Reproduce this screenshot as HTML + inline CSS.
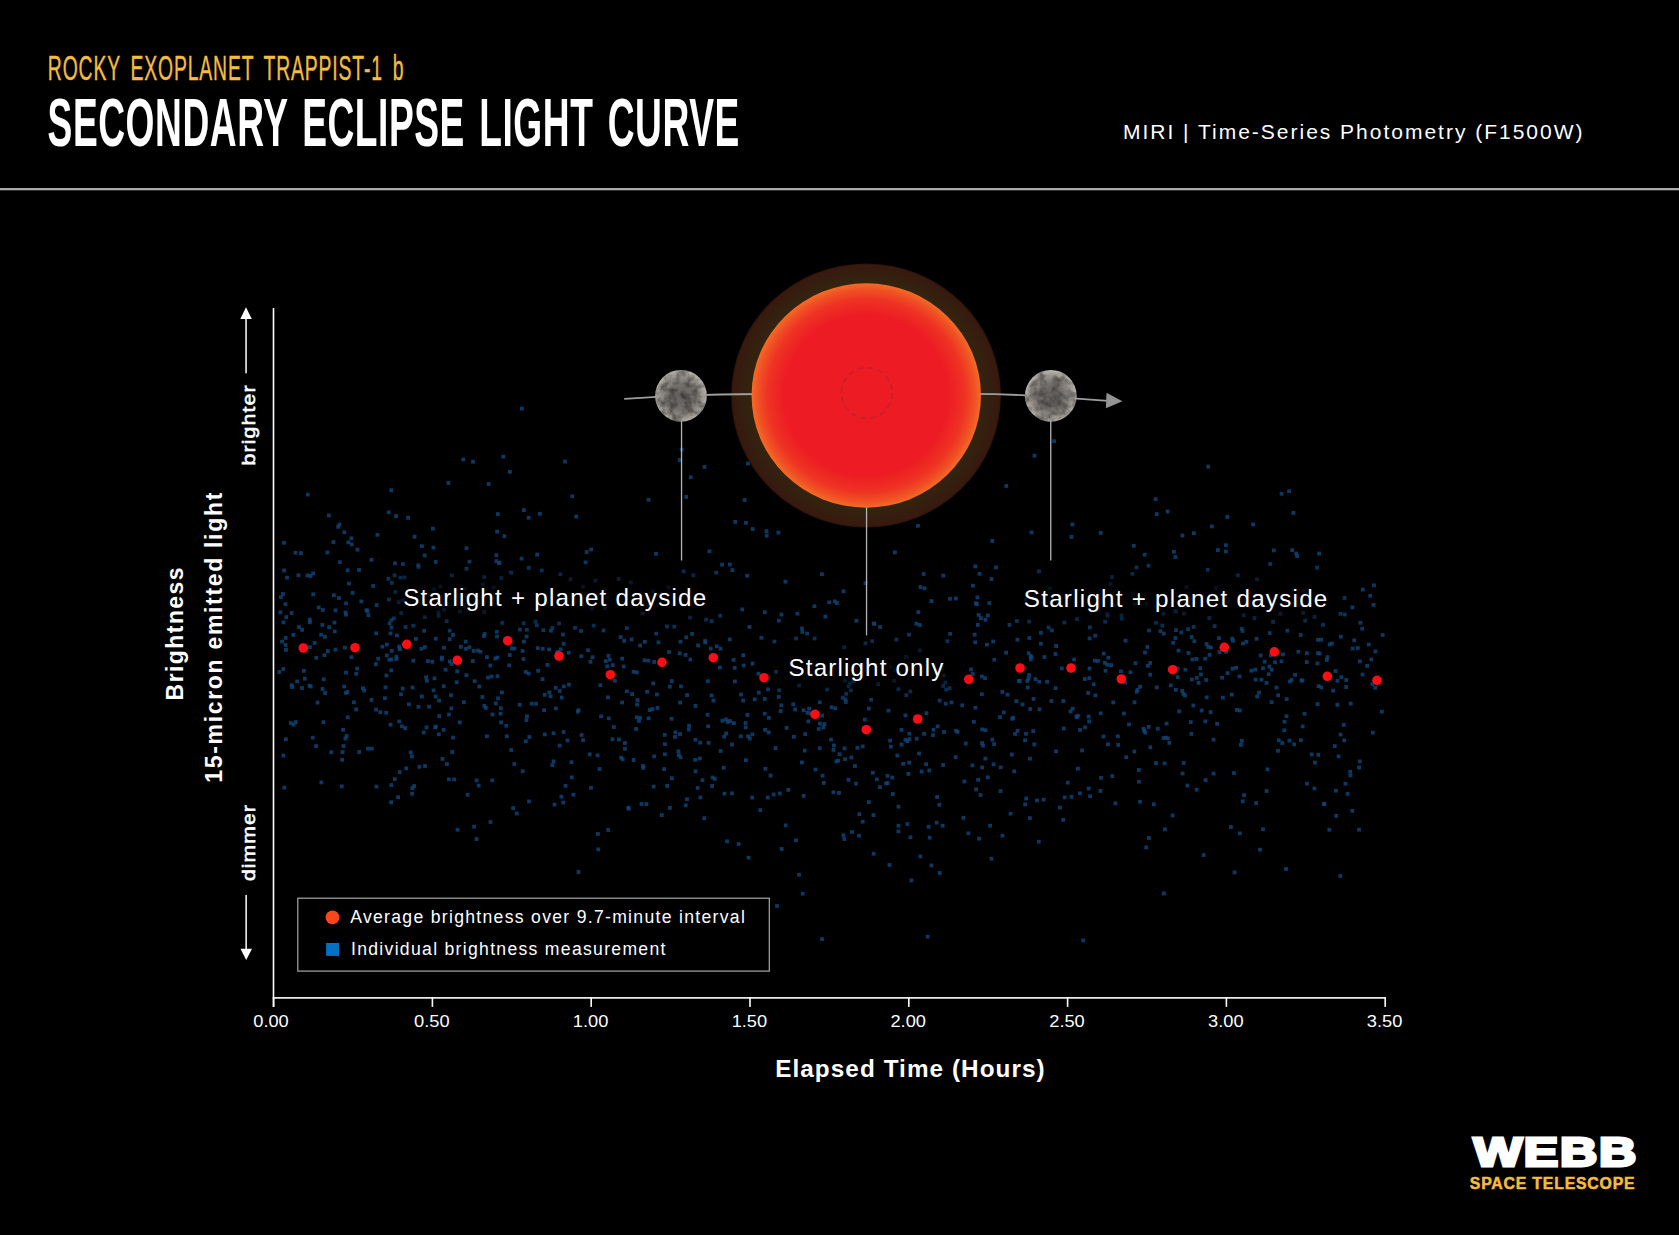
<!DOCTYPE html>
<html lang="en"><head><meta charset="utf-8"><title>Secondary Eclipse Light Curve</title>
<style>
html,body{margin:0;padding:0;background:#000;}
body{width:1679px;height:1235px;overflow:hidden;position:relative;font-family:"Liberation Sans",sans-serif;}
svg{position:absolute;left:0;top:0;display:block;}
text{font-family:"Liberation Sans",sans-serif;fill:#fff;}
</style></head><body>
<svg width="1679" height="1235" viewBox="0 0 1679 1235">
<defs>
<radialGradient id="starg" cx="50%" cy="50%" r="50%">
<stop offset="0" stop-color="#ed1c24"/><stop offset="0.72" stop-color="#ed1c24"/><stop offset="0.86" stop-color="#ee3323"/><stop offset="0.95" stop-color="#f05324"/><stop offset="1" stop-color="#f36c26"/>
</radialGradient>
<radialGradient id="halog" cx="50%" cy="50%" r="50%">
<stop offset="0" stop-color="#33240f"/><stop offset="0.86" stop-color="#33230f"/><stop offset="0.93" stop-color="#351e0f"/><stop offset="0.985" stop-color="#38190e"/><stop offset="1" stop-color="#2a120a"/>
</radialGradient>
<radialGradient id="plg" cx="50%" cy="52%" r="50%">
<stop offset="0" stop-color="#625e5a"/><stop offset="0.5" stop-color="#75706c"/><stop offset="0.82" stop-color="#9a958f"/><stop offset="1" stop-color="#b6b1ab"/>
</radialGradient>
<filter id="rough" x="-10%" y="-10%" width="120%" height="120%">
<feTurbulence type="fractalNoise" baseFrequency="0.13" numOctaves="3" seed="4" result="n"/>
<feColorMatrix in="n" type="matrix" values="0 0 0 0 0  0 0 0 0 0  0 0 0 0 0  1.0 0 0 0 -0.38" result="a"/>
<feComposite in="a" in2="SourceGraphic" operator="in"/>
</filter>
<filter id="dblur" x="0" y="0" width="100%" height="100%" filterUnits="userSpaceOnUse"><feGaussianBlur stdDeviation="0.6"/></filter>
<filter id="tglow" x="-20%" y="-120%" width="140%" height="340%">
<feGaussianBlur stdDeviation="10"/>
</filter>
</defs>
<rect width="1679" height="1235" fill="#000"/>
<g id="header">
<text id="sub" transform="translate(47.8,79.8) scale(0.562,1)" word-spacing="6.5" font-size="34.5" style="fill:#f6bc3e" stroke="#f6bc3e" stroke-width="0.4" letter-spacing="1.5">ROCKY EXOPLANET TRAPPIST-1 b</text>
<text id="title" transform="translate(47.6,145.5) scale(0.5363,1)" word-spacing="6.5" font-size="69.3" font-weight="bold" letter-spacing="1">SECONDARY ECLIPSE LIGHT CURVE</text>
<text id="miri" x="1123" y="138.7" font-size="21" textLength="459.5" lengthAdjust="spacing">MIRI | Time-Series Photometry (F1500W)</text>
<rect x="0" y="188" width="1679" height="2.3" fill="#a8a8a8"/>
</g>
<g id="dots" fill="#0c4476" fill-opacity="0.82" filter="url(#dblur)">
<rect x="634.9" y="670.5" width="3.8" height="3.8"/>
<rect x="869.2" y="697.8" width="3.8" height="3.8"/>
<rect x="341.2" y="727.9" width="3.8" height="3.8"/>
<rect x="354.3" y="671.9" width="3.8" height="3.8"/>
<rect x="746.2" y="734.4" width="3.8" height="3.8"/>
<rect x="970.4" y="763.5" width="3.8" height="3.8"/>
<rect x="914.8" y="736.8" width="3.8" height="3.8"/>
<rect x="1225.7" y="671.2" width="3.8" height="3.8"/>
<rect x="436.5" y="610.4" width="3.8" height="3.8"/>
<rect x="476.8" y="783.7" width="3.8" height="3.8"/>
<rect x="983.1" y="676.3" width="3.8" height="3.8"/>
<rect x="343.0" y="645.7" width="3.8" height="3.8"/>
<rect x="1028.9" y="657.5" width="3.8" height="3.8"/>
<rect x="777.9" y="791.5" width="3.8" height="3.8"/>
<rect x="1154.9" y="685.5" width="3.8" height="3.8"/>
<rect x="857.4" y="812.3" width="3.8" height="3.8"/>
<rect x="1083.1" y="725.4" width="3.8" height="3.8"/>
<rect x="739.1" y="692.7" width="3.8" height="3.8"/>
<rect x="445.0" y="762.2" width="3.8" height="3.8"/>
<rect x="1122.0" y="711.6" width="3.8" height="3.8"/>
<rect x="1244.5" y="639.9" width="3.8" height="3.8"/>
<rect x="917.9" y="623.1" width="3.8" height="3.8"/>
<rect x="344.1" y="670.7" width="3.8" height="3.8"/>
<rect x="992.2" y="742.2" width="3.8" height="3.8"/>
<rect x="703.4" y="640.6" width="3.8" height="3.8"/>
<rect x="302.0" y="669.0" width="3.8" height="3.8"/>
<rect x="342.2" y="684.6" width="3.8" height="3.8"/>
<rect x="420.0" y="544.3" width="3.8" height="3.8"/>
<rect x="366.1" y="746.8" width="3.8" height="3.8"/>
<rect x="884.2" y="781.5" width="3.8" height="3.8"/>
<rect x="584.8" y="550.1" width="3.8" height="3.8"/>
<rect x="673.5" y="730.4" width="3.8" height="3.8"/>
<rect x="471.8" y="649.0" width="3.8" height="3.8"/>
<rect x="534.9" y="623.4" width="3.8" height="3.8"/>
<rect x="281.6" y="620.5" width="3.8" height="3.8"/>
<rect x="685.1" y="797.3" width="3.8" height="3.8"/>
<rect x="846.7" y="684.3" width="3.8" height="3.8"/>
<rect x="1024.3" y="796.6" width="3.8" height="3.8"/>
<rect x="1243.4" y="598.7" width="3.8" height="3.8"/>
<rect x="710.7" y="775.6" width="3.8" height="3.8"/>
<rect x="345.9" y="715.4" width="3.8" height="3.8"/>
<rect x="507.8" y="653.1" width="3.8" height="3.8"/>
<rect x="277.4" y="670.1" width="3.8" height="3.8"/>
<rect x="389.2" y="800.4" width="3.8" height="3.8"/>
<rect x="955.6" y="730.0" width="3.8" height="3.8"/>
<rect x="555.8" y="650.8" width="3.8" height="3.8"/>
<rect x="1215.2" y="721.9" width="3.8" height="3.8"/>
<rect x="792.0" y="734.9" width="3.8" height="3.8"/>
<rect x="655.7" y="706.0" width="3.8" height="3.8"/>
<rect x="860.8" y="744.5" width="3.8" height="3.8"/>
<rect x="1231.1" y="638.9" width="3.8" height="3.8"/>
<rect x="565.6" y="738.5" width="3.8" height="3.8"/>
<rect x="641.4" y="766.0" width="3.8" height="3.8"/>
<rect x="1181.4" y="691.9" width="3.8" height="3.8"/>
<rect x="670.0" y="776.3" width="3.8" height="3.8"/>
<rect x="308.0" y="645.3" width="3.8" height="3.8"/>
<rect x="1334.0" y="788.8" width="3.8" height="3.8"/>
<rect x="1312.5" y="786.6" width="3.8" height="3.8"/>
<rect x="520.7" y="649.1" width="3.8" height="3.8"/>
<rect x="494.5" y="553.3" width="3.8" height="3.8"/>
<rect x="1205.8" y="567.9" width="3.8" height="3.8"/>
<rect x="998.6" y="789.2" width="3.8" height="3.8"/>
<rect x="1282.4" y="728.4" width="3.8" height="3.8"/>
<rect x="1106.0" y="742.4" width="3.8" height="3.8"/>
<rect x="644.5" y="802.2" width="3.8" height="3.8"/>
<rect x="1078.0" y="791.4" width="3.8" height="3.8"/>
<rect x="417.5" y="764.9" width="3.8" height="3.8"/>
<rect x="438.6" y="584.7" width="3.8" height="3.8"/>
<rect x="1360.3" y="626.8" width="3.8" height="3.8"/>
<rect x="421.8" y="730.6" width="3.8" height="3.8"/>
<rect x="756.5" y="671.8" width="3.8" height="3.8"/>
<rect x="1190.0" y="677.6" width="3.8" height="3.8"/>
<rect x="542.9" y="732.5" width="3.8" height="3.8"/>
<rect x="563.7" y="783.9" width="3.8" height="3.8"/>
<rect x="668.0" y="806.0" width="3.8" height="3.8"/>
<rect x="921.7" y="572.1" width="3.8" height="3.8"/>
<rect x="831.4" y="790.4" width="3.8" height="3.8"/>
<rect x="855.6" y="675.4" width="3.8" height="3.8"/>
<rect x="281.4" y="667.1" width="3.8" height="3.8"/>
<rect x="467.5" y="645.3" width="3.8" height="3.8"/>
<rect x="637.3" y="596.3" width="3.8" height="3.8"/>
<rect x="890.9" y="792.1" width="3.8" height="3.8"/>
<rect x="551.7" y="731.3" width="3.8" height="3.8"/>
<rect x="1130.4" y="572.0" width="3.8" height="3.8"/>
<rect x="1285.4" y="628.8" width="3.8" height="3.8"/>
<rect x="953.9" y="596.6" width="3.8" height="3.8"/>
<rect x="776.9" y="695.0" width="3.8" height="3.8"/>
<rect x="805.3" y="631.7" width="3.8" height="3.8"/>
<rect x="895.4" y="753.6" width="3.8" height="3.8"/>
<rect x="411.5" y="623.8" width="3.8" height="3.8"/>
<rect x="357.3" y="750.1" width="3.8" height="3.8"/>
<rect x="1143.3" y="730.8" width="3.8" height="3.8"/>
<rect x="447.8" y="637.2" width="3.8" height="3.8"/>
<rect x="1252.6" y="616.1" width="3.8" height="3.8"/>
<rect x="519.7" y="556.8" width="3.8" height="3.8"/>
<rect x="1370.9" y="730.8" width="3.8" height="3.8"/>
<rect x="455.5" y="593.8" width="3.8" height="3.8"/>
<rect x="493.4" y="656.6" width="3.8" height="3.8"/>
<rect x="1075.1" y="617.2" width="3.8" height="3.8"/>
<rect x="297.1" y="625.2" width="3.8" height="3.8"/>
<rect x="392.9" y="777.1" width="3.8" height="3.8"/>
<rect x="575.9" y="709.7" width="3.8" height="3.8"/>
<rect x="743.7" y="721.1" width="3.8" height="3.8"/>
<rect x="442.2" y="607.8" width="3.8" height="3.8"/>
<rect x="907.6" y="737.2" width="3.8" height="3.8"/>
<rect x="1037.6" y="707.4" width="3.8" height="3.8"/>
<rect x="357.1" y="568.1" width="3.8" height="3.8"/>
<rect x="369.6" y="557.9" width="3.8" height="3.8"/>
<rect x="350.7" y="591.0" width="3.8" height="3.8"/>
<rect x="888.2" y="738.8" width="3.8" height="3.8"/>
<rect x="573.1" y="625.9" width="3.8" height="3.8"/>
<rect x="398.0" y="647.2" width="3.8" height="3.8"/>
<rect x="332.8" y="629.5" width="3.8" height="3.8"/>
<rect x="1116.3" y="743.0" width="3.8" height="3.8"/>
<rect x="829.7" y="705.3" width="3.8" height="3.8"/>
<rect x="553.8" y="685.9" width="3.8" height="3.8"/>
<rect x="1087.2" y="719.5" width="3.8" height="3.8"/>
<rect x="1309.9" y="752.5" width="3.8" height="3.8"/>
<rect x="711.5" y="698.7" width="3.8" height="3.8"/>
<rect x="1037.1" y="569.5" width="3.8" height="3.8"/>
<rect x="1058.0" y="805.7" width="3.8" height="3.8"/>
<rect x="724.3" y="731.5" width="3.8" height="3.8"/>
<rect x="355.2" y="666.7" width="3.8" height="3.8"/>
<rect x="559.5" y="794.8" width="3.8" height="3.8"/>
<rect x="1239.0" y="743.0" width="3.8" height="3.8"/>
<rect x="588.6" y="659.9" width="3.8" height="3.8"/>
<rect x="451.2" y="735.7" width="3.8" height="3.8"/>
<rect x="547.2" y="647.5" width="3.8" height="3.8"/>
<rect x="619.2" y="755.8" width="3.8" height="3.8"/>
<rect x="801.6" y="708.4" width="3.8" height="3.8"/>
<rect x="499.2" y="720.5" width="3.8" height="3.8"/>
<rect x="376.3" y="656.8" width="3.8" height="3.8"/>
<rect x="323.1" y="634.9" width="3.8" height="3.8"/>
<rect x="924.2" y="762.3" width="3.8" height="3.8"/>
<rect x="1106.4" y="655.8" width="3.8" height="3.8"/>
<rect x="707.5" y="549.4" width="3.8" height="3.8"/>
<rect x="1365.2" y="664.0" width="3.8" height="3.8"/>
<rect x="325.5" y="550.5" width="3.8" height="3.8"/>
<rect x="1262.7" y="659.8" width="3.8" height="3.8"/>
<rect x="431.0" y="526.8" width="3.8" height="3.8"/>
<rect x="834.4" y="759.4" width="3.8" height="3.8"/>
<rect x="922.5" y="586.4" width="3.8" height="3.8"/>
<rect x="1031.7" y="697.0" width="3.8" height="3.8"/>
<rect x="424.2" y="675.4" width="3.8" height="3.8"/>
<rect x="393.0" y="561.4" width="3.8" height="3.8"/>
<rect x="969.1" y="667.5" width="3.8" height="3.8"/>
<rect x="817.8" y="746.3" width="3.8" height="3.8"/>
<rect x="832.9" y="599.5" width="3.8" height="3.8"/>
<rect x="1005.6" y="692.8" width="3.8" height="3.8"/>
<rect x="359.4" y="599.5" width="3.8" height="3.8"/>
<rect x="1083.0" y="677.1" width="3.8" height="3.8"/>
<rect x="806.4" y="719.5" width="3.8" height="3.8"/>
<rect x="987.4" y="601.1" width="3.8" height="3.8"/>
<rect x="440.0" y="655.6" width="3.8" height="3.8"/>
<rect x="904.5" y="655.5" width="3.8" height="3.8"/>
<rect x="344.1" y="601.4" width="3.8" height="3.8"/>
<rect x="1023.8" y="598.0" width="3.8" height="3.8"/>
<rect x="847.9" y="681.2" width="3.8" height="3.8"/>
<rect x="1264.6" y="680.9" width="3.8" height="3.8"/>
<rect x="1357.9" y="759.5" width="3.8" height="3.8"/>
<rect x="1183.1" y="693.6" width="3.8" height="3.8"/>
<rect x="773.7" y="746.2" width="3.8" height="3.8"/>
<rect x="433.7" y="694.6" width="3.8" height="3.8"/>
<rect x="1183.4" y="667.8" width="3.8" height="3.8"/>
<rect x="1257.1" y="690.7" width="3.8" height="3.8"/>
<rect x="281.1" y="592.1" width="3.8" height="3.8"/>
<rect x="432.6" y="676.4" width="3.8" height="3.8"/>
<rect x="626.4" y="805.9" width="3.8" height="3.8"/>
<rect x="1204.3" y="678.1" width="3.8" height="3.8"/>
<rect x="1300.8" y="724.5" width="3.8" height="3.8"/>
<rect x="688.4" y="657.6" width="3.8" height="3.8"/>
<rect x="1380.8" y="633.1" width="3.8" height="3.8"/>
<rect x="581.1" y="738.3" width="3.8" height="3.8"/>
<rect x="389.5" y="618.3" width="3.8" height="3.8"/>
<rect x="841.7" y="589.4" width="3.8" height="3.8"/>
<rect x="1254.2" y="801.2" width="3.8" height="3.8"/>
<rect x="974.2" y="787.5" width="3.8" height="3.8"/>
<rect x="1072.2" y="657.6" width="3.8" height="3.8"/>
<rect x="1086.3" y="691.0" width="3.8" height="3.8"/>
<rect x="593.4" y="578.7" width="3.8" height="3.8"/>
<rect x="1301.2" y="610.9" width="3.8" height="3.8"/>
<rect x="606.1" y="695.4" width="3.8" height="3.8"/>
<rect x="1355.9" y="646.1" width="3.8" height="3.8"/>
<rect x="892.9" y="668.5" width="3.8" height="3.8"/>
<rect x="462.0" y="700.3" width="3.8" height="3.8"/>
<rect x="1278.5" y="611.8" width="3.8" height="3.8"/>
<rect x="489.7" y="674.5" width="3.8" height="3.8"/>
<rect x="655.0" y="692.6" width="3.8" height="3.8"/>
<rect x="906.5" y="772.0" width="3.8" height="3.8"/>
<rect x="1105.5" y="612.1" width="3.8" height="3.8"/>
<rect x="693.5" y="737.8" width="3.8" height="3.8"/>
<rect x="345.7" y="690.1" width="3.8" height="3.8"/>
<rect x="833.4" y="706.3" width="3.8" height="3.8"/>
<rect x="1230.6" y="666.8" width="3.8" height="3.8"/>
<rect x="718.8" y="749.1" width="3.8" height="3.8"/>
<rect x="1331.2" y="688.8" width="3.8" height="3.8"/>
<rect x="312.7" y="641.0" width="3.8" height="3.8"/>
<rect x="1266.8" y="672.3" width="3.8" height="3.8"/>
<rect x="709.7" y="693.6" width="3.8" height="3.8"/>
<rect x="1189.4" y="732.0" width="3.8" height="3.8"/>
<rect x="397.6" y="646.7" width="3.8" height="3.8"/>
<rect x="992.4" y="657.8" width="3.8" height="3.8"/>
<rect x="534.1" y="701.8" width="3.8" height="3.8"/>
<rect x="990.4" y="737.7" width="3.8" height="3.8"/>
<rect x="980.2" y="741.2" width="3.8" height="3.8"/>
<rect x="401.0" y="562.2" width="3.8" height="3.8"/>
<rect x="705.9" y="679.3" width="3.8" height="3.8"/>
<rect x="941.3" y="684.0" width="3.8" height="3.8"/>
<rect x="1336.7" y="754.5" width="3.8" height="3.8"/>
<rect x="1253.7" y="677.7" width="3.8" height="3.8"/>
<rect x="1338.6" y="732.7" width="3.8" height="3.8"/>
<rect x="616.8" y="577.1" width="3.8" height="3.8"/>
<rect x="741.2" y="698.6" width="3.8" height="3.8"/>
<rect x="1014.5" y="699.2" width="3.8" height="3.8"/>
<rect x="650.6" y="707.1" width="3.8" height="3.8"/>
<rect x="1031.3" y="729.2" width="3.8" height="3.8"/>
<rect x="835.0" y="601.2" width="3.8" height="3.8"/>
<rect x="1348.8" y="701.7" width="3.8" height="3.8"/>
<rect x="521.8" y="621.3" width="3.8" height="3.8"/>
<rect x="603.0" y="606.3" width="3.8" height="3.8"/>
<rect x="523.9" y="670.1" width="3.8" height="3.8"/>
<rect x="1012.3" y="769.4" width="3.8" height="3.8"/>
<rect x="512.4" y="762.1" width="3.8" height="3.8"/>
<rect x="433.9" y="724.8" width="3.8" height="3.8"/>
<rect x="1269.6" y="700.2" width="3.8" height="3.8"/>
<rect x="1086.8" y="786.7" width="3.8" height="3.8"/>
<rect x="482.1" y="634.1" width="3.8" height="3.8"/>
<rect x="1101.8" y="651.7" width="3.8" height="3.8"/>
<rect x="690.2" y="632.0" width="3.8" height="3.8"/>
<rect x="464.1" y="646.9" width="3.8" height="3.8"/>
<rect x="1332.9" y="744.2" width="3.8" height="3.8"/>
<rect x="1342.6" y="596.0" width="3.8" height="3.8"/>
<rect x="1185.4" y="783.6" width="3.8" height="3.8"/>
<rect x="331.5" y="540.2" width="3.8" height="3.8"/>
<rect x="490.4" y="778.4" width="3.8" height="3.8"/>
<rect x="1268.3" y="562.1" width="3.8" height="3.8"/>
<rect x="1124.3" y="755.3" width="3.8" height="3.8"/>
<rect x="315.6" y="700.7" width="3.8" height="3.8"/>
<rect x="1102.9" y="660.9" width="3.8" height="3.8"/>
<rect x="651.8" y="784.7" width="3.8" height="3.8"/>
<rect x="566.8" y="650.9" width="3.8" height="3.8"/>
<rect x="626.8" y="806.8" width="3.8" height="3.8"/>
<rect x="1289.8" y="678.0" width="3.8" height="3.8"/>
<rect x="1319.4" y="685.6" width="3.8" height="3.8"/>
<rect x="1334.3" y="814.0" width="3.8" height="3.8"/>
<rect x="704.2" y="617.7" width="3.8" height="3.8"/>
<rect x="1302.6" y="711.9" width="3.8" height="3.8"/>
<rect x="1163.9" y="735.8" width="3.8" height="3.8"/>
<rect x="948.1" y="596.9" width="3.8" height="3.8"/>
<rect x="630.2" y="692.2" width="3.8" height="3.8"/>
<rect x="495.1" y="634.7" width="3.8" height="3.8"/>
<rect x="550.4" y="763.2" width="3.8" height="3.8"/>
<rect x="637.1" y="719.1" width="3.8" height="3.8"/>
<rect x="1253.3" y="667.8" width="3.8" height="3.8"/>
<rect x="383.6" y="685.4" width="3.8" height="3.8"/>
<rect x="1061.4" y="699.2" width="3.8" height="3.8"/>
<rect x="962.5" y="779.6" width="3.8" height="3.8"/>
<rect x="1103.6" y="668.8" width="3.8" height="3.8"/>
<rect x="1206.3" y="645.1" width="3.8" height="3.8"/>
<rect x="903.5" y="713.4" width="3.8" height="3.8"/>
<rect x="550.5" y="626.1" width="3.8" height="3.8"/>
<rect x="446.5" y="602.1" width="3.8" height="3.8"/>
<rect x="714.8" y="644.4" width="3.8" height="3.8"/>
<rect x="837.7" y="752.3" width="3.8" height="3.8"/>
<rect x="1372.1" y="583.4" width="3.8" height="3.8"/>
<rect x="801.7" y="794.0" width="3.8" height="3.8"/>
<rect x="408.8" y="750.5" width="3.8" height="3.8"/>
<rect x="1304.9" y="660.2" width="3.8" height="3.8"/>
<rect x="1234.2" y="665.8" width="3.8" height="3.8"/>
<rect x="1322.1" y="802.2" width="3.8" height="3.8"/>
<rect x="935.8" y="724.5" width="3.8" height="3.8"/>
<rect x="433.3" y="725.5" width="3.8" height="3.8"/>
<rect x="558.8" y="647.4" width="3.8" height="3.8"/>
<rect x="289.7" y="611.1" width="3.8" height="3.8"/>
<rect x="1026.6" y="676.7" width="3.8" height="3.8"/>
<rect x="1155.9" y="726.8" width="3.8" height="3.8"/>
<rect x="347.0" y="581.6" width="3.8" height="3.8"/>
<rect x="983.4" y="756.7" width="3.8" height="3.8"/>
<rect x="458.0" y="609.5" width="3.8" height="3.8"/>
<rect x="617.0" y="737.6" width="3.8" height="3.8"/>
<rect x="622.3" y="638.9" width="3.8" height="3.8"/>
<rect x="1232.1" y="771.2" width="3.8" height="3.8"/>
<rect x="679.1" y="684.5" width="3.8" height="3.8"/>
<rect x="283.6" y="602.3" width="3.8" height="3.8"/>
<rect x="745.3" y="573.9" width="3.8" height="3.8"/>
<rect x="786.4" y="788.0" width="3.8" height="3.8"/>
<rect x="293.5" y="550.8" width="3.8" height="3.8"/>
<rect x="375.5" y="532.9" width="3.8" height="3.8"/>
<rect x="686.9" y="727.7" width="3.8" height="3.8"/>
<rect x="853.0" y="764.1" width="3.8" height="3.8"/>
<rect x="397.3" y="719.5" width="3.8" height="3.8"/>
<rect x="1319.2" y="637.8" width="3.8" height="3.8"/>
<rect x="1300.5" y="678.5" width="3.8" height="3.8"/>
<rect x="1276.3" y="693.4" width="3.8" height="3.8"/>
<rect x="1145.4" y="645.1" width="3.8" height="3.8"/>
<rect x="724.1" y="717.5" width="3.8" height="3.8"/>
<rect x="518.1" y="627.6" width="3.8" height="3.8"/>
<rect x="849.4" y="755.6" width="3.8" height="3.8"/>
<rect x="1078.1" y="728.0" width="3.8" height="3.8"/>
<rect x="322.5" y="653.3" width="3.8" height="3.8"/>
<rect x="1203.3" y="656.8" width="3.8" height="3.8"/>
<rect x="939.6" y="666.8" width="3.8" height="3.8"/>
<rect x="741.3" y="653.3" width="3.8" height="3.8"/>
<rect x="747.5" y="625.0" width="3.8" height="3.8"/>
<rect x="302.9" y="676.8" width="3.8" height="3.8"/>
<rect x="818.0" y="721.7" width="3.8" height="3.8"/>
<rect x="783.5" y="579.8" width="3.8" height="3.8"/>
<rect x="800.0" y="760.5" width="3.8" height="3.8"/>
<rect x="378.4" y="710.3" width="3.8" height="3.8"/>
<rect x="840.8" y="695.7" width="3.8" height="3.8"/>
<rect x="1087.6" y="666.6" width="3.8" height="3.8"/>
<rect x="842.3" y="645.4" width="3.8" height="3.8"/>
<rect x="1327.8" y="676.2" width="3.8" height="3.8"/>
<rect x="1224.2" y="649.9" width="3.8" height="3.8"/>
<rect x="820.6" y="773.8" width="3.8" height="3.8"/>
<rect x="1148.3" y="661.0" width="3.8" height="3.8"/>
<rect x="349.5" y="655.3" width="3.8" height="3.8"/>
<rect x="1267.8" y="631.2" width="3.8" height="3.8"/>
<rect x="507.3" y="663.4" width="3.8" height="3.8"/>
<rect x="836.2" y="758.8" width="3.8" height="3.8"/>
<rect x="455.3" y="669.4" width="3.8" height="3.8"/>
<rect x="1028.1" y="756.8" width="3.8" height="3.8"/>
<rect x="404.3" y="766.5" width="3.8" height="3.8"/>
<rect x="980.2" y="765.6" width="3.8" height="3.8"/>
<rect x="918.0" y="648.5" width="3.8" height="3.8"/>
<rect x="392.7" y="573.5" width="3.8" height="3.8"/>
<rect x="1158.5" y="629.2" width="3.8" height="3.8"/>
<rect x="1371.6" y="603.0" width="3.8" height="3.8"/>
<rect x="765.8" y="795.6" width="3.8" height="3.8"/>
<rect x="1098.8" y="711.4" width="3.8" height="3.8"/>
<rect x="983.5" y="617.9" width="3.8" height="3.8"/>
<rect x="924.5" y="711.2" width="3.8" height="3.8"/>
<rect x="314.4" y="655.9" width="3.8" height="3.8"/>
<rect x="423.0" y="645.2" width="3.8" height="3.8"/>
<rect x="998.8" y="765.4" width="3.8" height="3.8"/>
<rect x="394.6" y="657.1" width="3.8" height="3.8"/>
<rect x="524.9" y="627.8" width="3.8" height="3.8"/>
<rect x="966.5" y="678.6" width="3.8" height="3.8"/>
<rect x="426.0" y="659.2" width="3.8" height="3.8"/>
<rect x="383.0" y="696.3" width="3.8" height="3.8"/>
<rect x="1239.9" y="626.9" width="3.8" height="3.8"/>
<rect x="289.8" y="683.3" width="3.8" height="3.8"/>
<rect x="898.5" y="670.5" width="3.8" height="3.8"/>
<rect x="1312.7" y="615.0" width="3.8" height="3.8"/>
<rect x="551.7" y="759.5" width="3.8" height="3.8"/>
<rect x="725.7" y="720.1" width="3.8" height="3.8"/>
<rect x="341.6" y="744.1" width="3.8" height="3.8"/>
<rect x="1316.8" y="684.2" width="3.8" height="3.8"/>
<rect x="497.6" y="560.8" width="3.8" height="3.8"/>
<rect x="1175.9" y="675.3" width="3.8" height="3.8"/>
<rect x="1142.3" y="728.7" width="3.8" height="3.8"/>
<rect x="284.1" y="648.0" width="3.8" height="3.8"/>
<rect x="1096.7" y="607.7" width="3.8" height="3.8"/>
<rect x="526.8" y="671.7" width="3.8" height="3.8"/>
<rect x="647.8" y="708.2" width="3.8" height="3.8"/>
<rect x="1045.2" y="679.9" width="3.8" height="3.8"/>
<rect x="889.0" y="664.9" width="3.8" height="3.8"/>
<rect x="1148.3" y="672.8" width="3.8" height="3.8"/>
<rect x="1343.6" y="781.8" width="3.8" height="3.8"/>
<rect x="1249.5" y="668.8" width="3.8" height="3.8"/>
<rect x="1099.1" y="775.9" width="3.8" height="3.8"/>
<rect x="1101.6" y="734.6" width="3.8" height="3.8"/>
<rect x="541.4" y="628.3" width="3.8" height="3.8"/>
<rect x="974.0" y="601.3" width="3.8" height="3.8"/>
<rect x="1048.0" y="586.4" width="3.8" height="3.8"/>
<rect x="907.3" y="760.7" width="3.8" height="3.8"/>
<rect x="511.3" y="806.2" width="3.8" height="3.8"/>
<rect x="436.9" y="732.4" width="3.8" height="3.8"/>
<rect x="395.0" y="633.6" width="3.8" height="3.8"/>
<rect x="308.8" y="684.6" width="3.8" height="3.8"/>
<rect x="1042.5" y="655.2" width="3.8" height="3.8"/>
<rect x="349.8" y="542.5" width="3.8" height="3.8"/>
<rect x="678.7" y="755.4" width="3.8" height="3.8"/>
<rect x="1287.5" y="738.7" width="3.8" height="3.8"/>
<rect x="400.8" y="686.7" width="3.8" height="3.8"/>
<rect x="1213.8" y="586.3" width="3.8" height="3.8"/>
<rect x="974.9" y="602.3" width="3.8" height="3.8"/>
<rect x="387.5" y="657.8" width="3.8" height="3.8"/>
<rect x="629.7" y="637.5" width="3.8" height="3.8"/>
<rect x="300.2" y="628.0" width="3.8" height="3.8"/>
<rect x="683.8" y="803.5" width="3.8" height="3.8"/>
<rect x="1342.3" y="738.5" width="3.8" height="3.8"/>
<rect x="311.3" y="571.5" width="3.8" height="3.8"/>
<rect x="759.4" y="635.9" width="3.8" height="3.8"/>
<rect x="871.5" y="813.2" width="3.8" height="3.8"/>
<rect x="1229.9" y="692.7" width="3.8" height="3.8"/>
<rect x="278.5" y="610.3" width="3.8" height="3.8"/>
<rect x="820.2" y="713.7" width="3.8" height="3.8"/>
<rect x="481.0" y="582.7" width="3.8" height="3.8"/>
<rect x="590.6" y="655.3" width="3.8" height="3.8"/>
<rect x="398.6" y="575.8" width="3.8" height="3.8"/>
<rect x="366.5" y="613.3" width="3.8" height="3.8"/>
<rect x="971.0" y="583.8" width="3.8" height="3.8"/>
<rect x="720.5" y="718.9" width="3.8" height="3.8"/>
<rect x="1258.8" y="653.5" width="3.8" height="3.8"/>
<rect x="504.9" y="734.3" width="3.8" height="3.8"/>
<rect x="696.2" y="643.5" width="3.8" height="3.8"/>
<rect x="535.2" y="552.7" width="3.8" height="3.8"/>
<rect x="1109.2" y="663.2" width="3.8" height="3.8"/>
<rect x="662.2" y="767.2" width="3.8" height="3.8"/>
<rect x="1008.7" y="811.8" width="3.8" height="3.8"/>
<rect x="464.5" y="673.3" width="3.8" height="3.8"/>
<rect x="416.4" y="563.3" width="3.8" height="3.8"/>
<rect x="1255.2" y="694.5" width="3.8" height="3.8"/>
<rect x="1054.1" y="749.4" width="3.8" height="3.8"/>
<rect x="447.9" y="659.6" width="3.8" height="3.8"/>
<rect x="854.1" y="781.7" width="3.8" height="3.8"/>
<rect x="639.6" y="802.1" width="3.8" height="3.8"/>
<rect x="389.6" y="625.6" width="3.8" height="3.8"/>
<rect x="389.4" y="783.2" width="3.8" height="3.8"/>
<rect x="1087.4" y="676.2" width="3.8" height="3.8"/>
<rect x="493.9" y="701.5" width="3.8" height="3.8"/>
<rect x="706.2" y="724.4" width="3.8" height="3.8"/>
<rect x="718.0" y="665.6" width="3.8" height="3.8"/>
<rect x="975.9" y="623.0" width="3.8" height="3.8"/>
<rect x="433.8" y="560.1" width="3.8" height="3.8"/>
<rect x="1280.4" y="741.2" width="3.8" height="3.8"/>
<rect x="911.3" y="669.8" width="3.8" height="3.8"/>
<rect x="1075.2" y="715.1" width="3.8" height="3.8"/>
<rect x="1132.4" y="749.6" width="3.8" height="3.8"/>
<rect x="986.0" y="613.6" width="3.8" height="3.8"/>
<rect x="623.0" y="746.9" width="3.8" height="3.8"/>
<rect x="1141.6" y="726.8" width="3.8" height="3.8"/>
<rect x="972.8" y="632.8" width="3.8" height="3.8"/>
<rect x="963.9" y="741.6" width="3.8" height="3.8"/>
<rect x="1023.2" y="738.4" width="3.8" height="3.8"/>
<rect x="1137.0" y="779.8" width="3.8" height="3.8"/>
<rect x="454.8" y="680.3" width="3.8" height="3.8"/>
<rect x="1316.4" y="752.9" width="3.8" height="3.8"/>
<rect x="874.9" y="777.4" width="3.8" height="3.8"/>
<rect x="843.1" y="757.3" width="3.8" height="3.8"/>
<rect x="730.5" y="568.2" width="3.8" height="3.8"/>
<rect x="509.2" y="570.8" width="3.8" height="3.8"/>
<rect x="412.3" y="784.1" width="3.8" height="3.8"/>
<rect x="669.9" y="679.2" width="3.8" height="3.8"/>
<rect x="291.8" y="722.7" width="3.8" height="3.8"/>
<rect x="741.8" y="663.6" width="3.8" height="3.8"/>
<rect x="525.1" y="714.4" width="3.8" height="3.8"/>
<rect x="1315.7" y="702.2" width="3.8" height="3.8"/>
<rect x="420.0" y="694.5" width="3.8" height="3.8"/>
<rect x="795.5" y="611.8" width="3.8" height="3.8"/>
<rect x="526.8" y="566.1" width="3.8" height="3.8"/>
<rect x="1181.8" y="761.1" width="3.8" height="3.8"/>
<rect x="794.4" y="671.1" width="3.8" height="3.8"/>
<rect x="1198.4" y="666.3" width="3.8" height="3.8"/>
<rect x="1217.1" y="636.2" width="3.8" height="3.8"/>
<rect x="747.9" y="736.7" width="3.8" height="3.8"/>
<rect x="280.1" y="639.7" width="3.8" height="3.8"/>
<rect x="610.6" y="737.3" width="3.8" height="3.8"/>
<rect x="750.6" y="661.7" width="3.8" height="3.8"/>
<rect x="1303.3" y="618.7" width="3.8" height="3.8"/>
<rect x="340.2" y="757.9" width="3.8" height="3.8"/>
<rect x="432.2" y="587.5" width="3.8" height="3.8"/>
<rect x="1001.9" y="710.5" width="3.8" height="3.8"/>
<rect x="389.3" y="668.5" width="3.8" height="3.8"/>
<rect x="659.9" y="813.2" width="3.8" height="3.8"/>
<rect x="1276.1" y="748.9" width="3.8" height="3.8"/>
<rect x="1015.7" y="728.9" width="3.8" height="3.8"/>
<rect x="495.2" y="529.7" width="3.8" height="3.8"/>
<rect x="863.6" y="581.3" width="3.8" height="3.8"/>
<rect x="890.4" y="775.7" width="3.8" height="3.8"/>
<rect x="535.9" y="646.2" width="3.8" height="3.8"/>
<rect x="793.2" y="707.5" width="3.8" height="3.8"/>
<rect x="820.1" y="572.3" width="3.8" height="3.8"/>
<rect x="284.4" y="615.2" width="3.8" height="3.8"/>
<rect x="794.2" y="636.6" width="3.8" height="3.8"/>
<rect x="691.4" y="573.5" width="3.8" height="3.8"/>
<rect x="1338.6" y="612.0" width="3.8" height="3.8"/>
<rect x="308.6" y="574.0" width="3.8" height="3.8"/>
<rect x="1031.4" y="596.1" width="3.8" height="3.8"/>
<rect x="1268.9" y="653.6" width="3.8" height="3.8"/>
<rect x="651.3" y="589.5" width="3.8" height="3.8"/>
<rect x="681.7" y="569.5" width="3.8" height="3.8"/>
<rect x="510.0" y="646.5" width="3.8" height="3.8"/>
<rect x="743.8" y="725.5" width="3.8" height="3.8"/>
<rect x="1191.7" y="625.0" width="3.8" height="3.8"/>
<rect x="1000.4" y="690.0" width="3.8" height="3.8"/>
<rect x="642.7" y="658.4" width="3.8" height="3.8"/>
<rect x="978.6" y="793.1" width="3.8" height="3.8"/>
<rect x="321.4" y="720.3" width="3.8" height="3.8"/>
<rect x="332.0" y="593.3" width="3.8" height="3.8"/>
<rect x="284.0" y="737.3" width="3.8" height="3.8"/>
<rect x="1004.2" y="650.8" width="3.8" height="3.8"/>
<rect x="1282.5" y="599.5" width="3.8" height="3.8"/>
<rect x="1046.6" y="625.6" width="3.8" height="3.8"/>
<rect x="1029.6" y="655.3" width="3.8" height="3.8"/>
<rect x="1119.9" y="616.7" width="3.8" height="3.8"/>
<rect x="477.4" y="684.6" width="3.8" height="3.8"/>
<rect x="1186.1" y="627.3" width="3.8" height="3.8"/>
<rect x="610.9" y="663.2" width="3.8" height="3.8"/>
<rect x="629.0" y="580.7" width="3.8" height="3.8"/>
<rect x="337.5" y="522.6" width="3.8" height="3.8"/>
<rect x="320.6" y="687.1" width="3.8" height="3.8"/>
<rect x="1292.2" y="587.8" width="3.8" height="3.8"/>
<rect x="1360.9" y="587.7" width="3.8" height="3.8"/>
<rect x="732.8" y="666.0" width="3.8" height="3.8"/>
<rect x="444.8" y="619.2" width="3.8" height="3.8"/>
<rect x="282.4" y="785.7" width="3.8" height="3.8"/>
<rect x="374.5" y="784.7" width="3.8" height="3.8"/>
<rect x="419.6" y="646.9" width="3.8" height="3.8"/>
<rect x="1087.7" y="636.5" width="3.8" height="3.8"/>
<rect x="332.5" y="620.7" width="3.8" height="3.8"/>
<rect x="557.8" y="743.7" width="3.8" height="3.8"/>
<rect x="1069.6" y="794.9" width="3.8" height="3.8"/>
<rect x="1180.3" y="689.0" width="3.8" height="3.8"/>
<rect x="620.8" y="757.4" width="3.8" height="3.8"/>
<rect x="683.3" y="591.3" width="3.8" height="3.8"/>
<rect x="437.2" y="698.7" width="3.8" height="3.8"/>
<rect x="678.5" y="639.8" width="3.8" height="3.8"/>
<rect x="703.3" y="639.1" width="3.8" height="3.8"/>
<rect x="1321.2" y="622.8" width="3.8" height="3.8"/>
<rect x="344.1" y="612.8" width="3.8" height="3.8"/>
<rect x="1054.2" y="644.1" width="3.8" height="3.8"/>
<rect x="1357.2" y="765.6" width="3.8" height="3.8"/>
<rect x="941.4" y="573.7" width="3.8" height="3.8"/>
<rect x="693.3" y="758.0" width="3.8" height="3.8"/>
<rect x="942.1" y="730.1" width="3.8" height="3.8"/>
<rect x="279.0" y="595.2" width="3.8" height="3.8"/>
<rect x="744.0" y="758.3" width="3.8" height="3.8"/>
<rect x="1174.1" y="628.2" width="3.8" height="3.8"/>
<rect x="1217.7" y="650.2" width="3.8" height="3.8"/>
<rect x="1033.6" y="677.2" width="3.8" height="3.8"/>
<rect x="888.9" y="744.8" width="3.8" height="3.8"/>
<rect x="498.6" y="711.8" width="3.8" height="3.8"/>
<rect x="947.7" y="686.3" width="3.8" height="3.8"/>
<rect x="791.3" y="702.5" width="3.8" height="3.8"/>
<rect x="1151.9" y="802.4" width="3.8" height="3.8"/>
<rect x="374.0" y="662.2" width="3.8" height="3.8"/>
<rect x="917.5" y="662.3" width="3.8" height="3.8"/>
<rect x="1255.1" y="577.6" width="3.8" height="3.8"/>
<rect x="486.1" y="675.7" width="3.8" height="3.8"/>
<rect x="476.8" y="599.6" width="3.8" height="3.8"/>
<rect x="721.9" y="765.9" width="3.8" height="3.8"/>
<rect x="441.8" y="728.0" width="3.8" height="3.8"/>
<rect x="394.4" y="654.7" width="3.8" height="3.8"/>
<rect x="1147.1" y="628.6" width="3.8" height="3.8"/>
<rect x="851.1" y="679.1" width="3.8" height="3.8"/>
<rect x="314.2" y="744.2" width="3.8" height="3.8"/>
<rect x="903.8" y="655.0" width="3.8" height="3.8"/>
<rect x="1138.1" y="799.9" width="3.8" height="3.8"/>
<rect x="1181.9" y="611.6" width="3.8" height="3.8"/>
<rect x="557.8" y="689.1" width="3.8" height="3.8"/>
<rect x="369.5" y="698.0" width="3.8" height="3.8"/>
<rect x="893.0" y="550.5" width="3.8" height="3.8"/>
<rect x="1282.6" y="719.9" width="3.8" height="3.8"/>
<rect x="561.3" y="800.7" width="3.8" height="3.8"/>
<rect x="985.0" y="642.8" width="3.8" height="3.8"/>
<rect x="772.5" y="639.6" width="3.8" height="3.8"/>
<rect x="1344.3" y="685.1" width="3.8" height="3.8"/>
<rect x="559.8" y="695.7" width="3.8" height="3.8"/>
<rect x="1274.6" y="685.7" width="3.8" height="3.8"/>
<rect x="1146.0" y="663.9" width="3.8" height="3.8"/>
<rect x="991.7" y="762.4" width="3.8" height="3.8"/>
<rect x="1111.3" y="700.5" width="3.8" height="3.8"/>
<rect x="1025.1" y="593.6" width="3.8" height="3.8"/>
<rect x="393.6" y="590.0" width="3.8" height="3.8"/>
<rect x="561.1" y="632.6" width="3.8" height="3.8"/>
<rect x="540.6" y="677.2" width="3.8" height="3.8"/>
<rect x="1025.9" y="685.6" width="3.8" height="3.8"/>
<rect x="316.9" y="605.6" width="3.8" height="3.8"/>
<rect x="520.8" y="769.3" width="3.8" height="3.8"/>
<rect x="431.5" y="545.7" width="3.8" height="3.8"/>
<rect x="384.3" y="710.9" width="3.8" height="3.8"/>
<rect x="776.9" y="618.7" width="3.8" height="3.8"/>
<rect x="1186.6" y="651.0" width="3.8" height="3.8"/>
<rect x="522.0" y="639.7" width="3.8" height="3.8"/>
<rect x="1065.8" y="780.8" width="3.8" height="3.8"/>
<rect x="571.5" y="792.9" width="3.8" height="3.8"/>
<rect x="449.1" y="693.3" width="3.8" height="3.8"/>
<rect x="462.5" y="604.4" width="3.8" height="3.8"/>
<rect x="339.9" y="784.5" width="3.8" height="3.8"/>
<rect x="1015.5" y="637.8" width="3.8" height="3.8"/>
<rect x="562.0" y="684.5" width="3.8" height="3.8"/>
<rect x="384.9" y="653.5" width="3.8" height="3.8"/>
<rect x="1267.4" y="664.7" width="3.8" height="3.8"/>
<rect x="1358.5" y="620.9" width="3.8" height="3.8"/>
<rect x="1168.9" y="683.4" width="3.8" height="3.8"/>
<rect x="1196.7" y="681.0" width="3.8" height="3.8"/>
<rect x="482.4" y="703.9" width="3.8" height="3.8"/>
<rect x="908.4" y="689.5" width="3.8" height="3.8"/>
<rect x="476.1" y="648.6" width="3.8" height="3.8"/>
<rect x="364.7" y="608.2" width="3.8" height="3.8"/>
<rect x="949.6" y="700.5" width="3.8" height="3.8"/>
<rect x="953.8" y="755.3" width="3.8" height="3.8"/>
<rect x="1173.9" y="687.9" width="3.8" height="3.8"/>
<rect x="1086.8" y="714.6" width="3.8" height="3.8"/>
<rect x="1074.5" y="714.7" width="3.8" height="3.8"/>
<rect x="1207.4" y="616.0" width="3.8" height="3.8"/>
<rect x="821.9" y="781.0" width="3.8" height="3.8"/>
<rect x="1240.7" y="629.1" width="3.8" height="3.8"/>
<rect x="482.7" y="632.1" width="3.8" height="3.8"/>
<rect x="687.2" y="723.9" width="3.8" height="3.8"/>
<rect x="282.2" y="568.6" width="3.8" height="3.8"/>
<rect x="410.6" y="685.7" width="3.8" height="3.8"/>
<rect x="1179.4" y="630.5" width="3.8" height="3.8"/>
<rect x="698.5" y="795.5" width="3.8" height="3.8"/>
<rect x="344.7" y="734.1" width="3.8" height="3.8"/>
<rect x="844.3" y="691.9" width="3.8" height="3.8"/>
<rect x="870.9" y="770.9" width="3.8" height="3.8"/>
<rect x="478.6" y="649.8" width="3.8" height="3.8"/>
<rect x="553.9" y="706.5" width="3.8" height="3.8"/>
<rect x="1049.5" y="699.1" width="3.8" height="3.8"/>
<rect x="296.6" y="573.4" width="3.8" height="3.8"/>
<rect x="1053.5" y="652.1" width="3.8" height="3.8"/>
<rect x="1237.9" y="708.6" width="3.8" height="3.8"/>
<rect x="822.5" y="722.2" width="3.8" height="3.8"/>
<rect x="586.1" y="648.4" width="3.8" height="3.8"/>
<rect x="931.1" y="733.3" width="3.8" height="3.8"/>
<rect x="439.8" y="657.3" width="3.8" height="3.8"/>
<rect x="1189.8" y="635.2" width="3.8" height="3.8"/>
<rect x="706.7" y="740.9" width="3.8" height="3.8"/>
<rect x="714.3" y="570.8" width="3.8" height="3.8"/>
<rect x="1135.6" y="688.0" width="3.8" height="3.8"/>
<rect x="758.4" y="808.2" width="3.8" height="3.8"/>
<rect x="1165.9" y="736.4" width="3.8" height="3.8"/>
<rect x="336.3" y="524.9" width="3.8" height="3.8"/>
<rect x="1335.5" y="678.9" width="3.8" height="3.8"/>
<rect x="976.2" y="777.9" width="3.8" height="3.8"/>
<rect x="863.6" y="641.5" width="3.8" height="3.8"/>
<rect x="300.1" y="686.1" width="3.8" height="3.8"/>
<rect x="1348.6" y="773.6" width="3.8" height="3.8"/>
<rect x="1171.3" y="640.9" width="3.8" height="3.8"/>
<rect x="1254.6" y="636.9" width="3.8" height="3.8"/>
<rect x="1026.8" y="651.3" width="3.8" height="3.8"/>
<rect x="876.3" y="682.2" width="3.8" height="3.8"/>
<rect x="852.0" y="679.5" width="3.8" height="3.8"/>
<rect x="1327.8" y="642.5" width="3.8" height="3.8"/>
<rect x="410.1" y="754.5" width="3.8" height="3.8"/>
<rect x="1333.6" y="669.1" width="3.8" height="3.8"/>
<rect x="867.0" y="800.2" width="3.8" height="3.8"/>
<rect x="414.0" y="637.0" width="3.8" height="3.8"/>
<rect x="595.7" y="753.4" width="3.8" height="3.8"/>
<rect x="374.2" y="707.7" width="3.8" height="3.8"/>
<rect x="907.1" y="632.8" width="3.8" height="3.8"/>
<rect x="499.4" y="576.2" width="3.8" height="3.8"/>
<rect x="954.2" y="728.9" width="3.8" height="3.8"/>
<rect x="620.2" y="700.6" width="3.8" height="3.8"/>
<rect x="700.5" y="778.3" width="3.8" height="3.8"/>
<rect x="290.2" y="685.1" width="3.8" height="3.8"/>
<rect x="892.2" y="678.7" width="3.8" height="3.8"/>
<rect x="591.8" y="623.7" width="3.8" height="3.8"/>
<rect x="452.3" y="777.6" width="3.8" height="3.8"/>
<rect x="1239.9" y="739.0" width="3.8" height="3.8"/>
<rect x="763.2" y="728.0" width="3.8" height="3.8"/>
<rect x="397.8" y="770.2" width="3.8" height="3.8"/>
<rect x="447.8" y="628.8" width="3.8" height="3.8"/>
<rect x="666.6" y="585.5" width="3.8" height="3.8"/>
<rect x="1184.5" y="585.3" width="3.8" height="3.8"/>
<rect x="1093.4" y="693.5" width="3.8" height="3.8"/>
<rect x="1144.5" y="601.5" width="3.8" height="3.8"/>
<rect x="1287.8" y="679.6" width="3.8" height="3.8"/>
<rect x="1123.2" y="680.6" width="3.8" height="3.8"/>
<rect x="827.3" y="600.4" width="3.8" height="3.8"/>
<rect x="1143.1" y="650.6" width="3.8" height="3.8"/>
<rect x="948.2" y="632.0" width="3.8" height="3.8"/>
<rect x="1076.1" y="713.8" width="3.8" height="3.8"/>
<rect x="708.8" y="646.7" width="3.8" height="3.8"/>
<rect x="1146.8" y="725.0" width="3.8" height="3.8"/>
<rect x="829.1" y="737.7" width="3.8" height="3.8"/>
<rect x="437.3" y="714.2" width="3.8" height="3.8"/>
<rect x="919.7" y="769.6" width="3.8" height="3.8"/>
<rect x="1209.0" y="645.6" width="3.8" height="3.8"/>
<rect x="288.9" y="721.2" width="3.8" height="3.8"/>
<rect x="872.1" y="621.7" width="3.8" height="3.8"/>
<rect x="848.9" y="688.4" width="3.8" height="3.8"/>
<rect x="672.4" y="624.8" width="3.8" height="3.8"/>
<rect x="665.1" y="624.5" width="3.8" height="3.8"/>
<rect x="386.5" y="576.9" width="3.8" height="3.8"/>
<rect x="720.1" y="562.8" width="3.8" height="3.8"/>
<rect x="1342.8" y="612.6" width="3.8" height="3.8"/>
<rect x="763.5" y="766.9" width="3.8" height="3.8"/>
<rect x="862.9" y="717.7" width="3.8" height="3.8"/>
<rect x="465.7" y="792.9" width="3.8" height="3.8"/>
<rect x="843.5" y="697.5" width="3.8" height="3.8"/>
<rect x="1265.5" y="767.4" width="3.8" height="3.8"/>
<rect x="449.9" y="573.6" width="3.8" height="3.8"/>
<rect x="485.0" y="655.2" width="3.8" height="3.8"/>
<rect x="973.4" y="564.5" width="3.8" height="3.8"/>
<rect x="731.7" y="658.0" width="3.8" height="3.8"/>
<rect x="281.4" y="753.7" width="3.8" height="3.8"/>
<rect x="1207.7" y="653.0" width="3.8" height="3.8"/>
<rect x="827.2" y="671.2" width="3.8" height="3.8"/>
<rect x="911.9" y="666.9" width="3.8" height="3.8"/>
<rect x="411.4" y="658.8" width="3.8" height="3.8"/>
<rect x="387.7" y="621.5" width="3.8" height="3.8"/>
<rect x="854.5" y="618.8" width="3.8" height="3.8"/>
<rect x="345.7" y="568.4" width="3.8" height="3.8"/>
<rect x="1128.6" y="670.4" width="3.8" height="3.8"/>
<rect x="464.3" y="593.7" width="3.8" height="3.8"/>
<rect x="387.0" y="597.6" width="3.8" height="3.8"/>
<rect x="774.2" y="670.0" width="3.8" height="3.8"/>
<rect x="762.9" y="610.3" width="3.8" height="3.8"/>
<rect x="552.6" y="802.7" width="3.8" height="3.8"/>
<rect x="624.9" y="626.2" width="3.8" height="3.8"/>
<rect x="545.5" y="663.0" width="3.8" height="3.8"/>
<rect x="618.7" y="635.2" width="3.8" height="3.8"/>
<rect x="812.4" y="711.8" width="3.8" height="3.8"/>
<rect x="673.1" y="735.0" width="3.8" height="3.8"/>
<rect x="1350.7" y="646.7" width="3.8" height="3.8"/>
<rect x="866.9" y="706.6" width="3.8" height="3.8"/>
<rect x="722.6" y="791.8" width="3.8" height="3.8"/>
<rect x="665.2" y="784.0" width="3.8" height="3.8"/>
<rect x="488.4" y="663.6" width="3.8" height="3.8"/>
<rect x="1011.1" y="715.9" width="3.8" height="3.8"/>
<rect x="449.4" y="706.4" width="3.8" height="3.8"/>
<rect x="1199.8" y="708.6" width="3.8" height="3.8"/>
<rect x="767.0" y="715.9" width="3.8" height="3.8"/>
<rect x="667.1" y="650.1" width="3.8" height="3.8"/>
<rect x="693.6" y="769.4" width="3.8" height="3.8"/>
<rect x="777.3" y="688.4" width="3.8" height="3.8"/>
<rect x="1271.2" y="619.9" width="3.8" height="3.8"/>
<rect x="683.7" y="653.0" width="3.8" height="3.8"/>
<rect x="1241.1" y="641.6" width="3.8" height="3.8"/>
<rect x="844.0" y="700.0" width="3.8" height="3.8"/>
<rect x="702.3" y="816.3" width="3.8" height="3.8"/>
<rect x="904.4" y="693.3" width="3.8" height="3.8"/>
<rect x="472.7" y="679.3" width="3.8" height="3.8"/>
<rect x="631.8" y="758.1" width="3.8" height="3.8"/>
<rect x="676.5" y="749.4" width="3.8" height="3.8"/>
<rect x="605.2" y="664.4" width="3.8" height="3.8"/>
<rect x="416.5" y="704.9" width="3.8" height="3.8"/>
<rect x="589.1" y="785.9" width="3.8" height="3.8"/>
<rect x="1252.5" y="605.1" width="3.8" height="3.8"/>
<rect x="423.1" y="764.1" width="3.8" height="3.8"/>
<rect x="1010.4" y="716.9" width="3.8" height="3.8"/>
<rect x="733.0" y="679.5" width="3.8" height="3.8"/>
<rect x="1212.7" y="624.2" width="3.8" height="3.8"/>
<rect x="1088.2" y="794.4" width="3.8" height="3.8"/>
<rect x="321.8" y="677.4" width="3.8" height="3.8"/>
<rect x="612.0" y="725.2" width="3.8" height="3.8"/>
<rect x="320.5" y="623.0" width="3.8" height="3.8"/>
<rect x="1204.7" y="642.1" width="3.8" height="3.8"/>
<rect x="1069.0" y="590.7" width="3.8" height="3.8"/>
<rect x="662.8" y="733.0" width="3.8" height="3.8"/>
<rect x="1199.0" y="672.5" width="3.8" height="3.8"/>
<rect x="1220.9" y="695.8" width="3.8" height="3.8"/>
<rect x="329.4" y="750.3" width="3.8" height="3.8"/>
<rect x="509.3" y="748.1" width="3.8" height="3.8"/>
<rect x="1105.3" y="662.8" width="3.8" height="3.8"/>
<rect x="1103.2" y="619.8" width="3.8" height="3.8"/>
<rect x="587.8" y="752.5" width="3.8" height="3.8"/>
<rect x="1305.0" y="651.3" width="3.8" height="3.8"/>
<rect x="1093.3" y="633.8" width="3.8" height="3.8"/>
<rect x="337.1" y="596.1" width="3.8" height="3.8"/>
<rect x="750.4" y="732.4" width="3.8" height="3.8"/>
<rect x="1119.0" y="669.4" width="3.8" height="3.8"/>
<rect x="1053.6" y="686.2" width="3.8" height="3.8"/>
<rect x="1348.3" y="769.8" width="3.8" height="3.8"/>
<rect x="878.1" y="785.2" width="3.8" height="3.8"/>
<rect x="732.0" y="721.2" width="3.8" height="3.8"/>
<rect x="620.3" y="656.7" width="3.8" height="3.8"/>
<rect x="539.9" y="568.6" width="3.8" height="3.8"/>
<rect x="846.6" y="777.9" width="3.8" height="3.8"/>
<rect x="607.9" y="657.8" width="3.8" height="3.8"/>
<rect x="433.9" y="591.6" width="3.8" height="3.8"/>
<rect x="464.1" y="594.2" width="3.8" height="3.8"/>
<rect x="1123.7" y="638.8" width="3.8" height="3.8"/>
<rect x="403.6" y="625.1" width="3.8" height="3.8"/>
<rect x="343.8" y="691.0" width="3.8" height="3.8"/>
<rect x="494.9" y="629.9" width="3.8" height="3.8"/>
<rect x="635.6" y="698.2" width="3.8" height="3.8"/>
<rect x="678.2" y="700.7" width="3.8" height="3.8"/>
<rect x="1373.4" y="685.9" width="3.8" height="3.8"/>
<rect x="369.9" y="746.7" width="3.8" height="3.8"/>
<rect x="397.3" y="644.6" width="3.8" height="3.8"/>
<rect x="756.9" y="690.8" width="3.8" height="3.8"/>
<rect x="1293.2" y="672.9" width="3.8" height="3.8"/>
<rect x="970.8" y="672.1" width="3.8" height="3.8"/>
<rect x="548.9" y="628.8" width="3.8" height="3.8"/>
<rect x="307.7" y="683.8" width="3.8" height="3.8"/>
<rect x="482.3" y="609.9" width="3.8" height="3.8"/>
<rect x="1211.6" y="737.8" width="3.8" height="3.8"/>
<rect x="1194.7" y="787.8" width="3.8" height="3.8"/>
<rect x="638.1" y="715.9" width="3.8" height="3.8"/>
<rect x="684.3" y="635.4" width="3.8" height="3.8"/>
<rect x="685.2" y="693.2" width="3.8" height="3.8"/>
<rect x="903.5" y="737.9" width="3.8" height="3.8"/>
<rect x="823.4" y="614.7" width="3.8" height="3.8"/>
<rect x="451.1" y="633.1" width="3.8" height="3.8"/>
<rect x="1037.3" y="679.8" width="3.8" height="3.8"/>
<rect x="766.8" y="730.5" width="3.8" height="3.8"/>
<rect x="762.8" y="711.8" width="3.8" height="3.8"/>
<rect x="1076.0" y="766.8" width="3.8" height="3.8"/>
<rect x="1146.6" y="563.8" width="3.8" height="3.8"/>
<rect x="590.1" y="606.6" width="3.8" height="3.8"/>
<rect x="651.3" y="681.5" width="3.8" height="3.8"/>
<rect x="1013.1" y="732.1" width="3.8" height="3.8"/>
<rect x="603.9" y="659.2" width="3.8" height="3.8"/>
<rect x="899.6" y="728.0" width="3.8" height="3.8"/>
<rect x="634.8" y="715.4" width="3.8" height="3.8"/>
<rect x="1350.4" y="808.9" width="3.8" height="3.8"/>
<rect x="1173.4" y="636.1" width="3.8" height="3.8"/>
<rect x="605.3" y="595.5" width="3.8" height="3.8"/>
<rect x="1330.0" y="641.6" width="3.8" height="3.8"/>
<rect x="656.6" y="640.4" width="3.8" height="3.8"/>
<rect x="307.9" y="617.7" width="3.8" height="3.8"/>
<rect x="371.3" y="584.1" width="3.8" height="3.8"/>
<rect x="688.2" y="615.6" width="3.8" height="3.8"/>
<rect x="901.2" y="761.9" width="3.8" height="3.8"/>
<rect x="403.4" y="726.3" width="3.8" height="3.8"/>
<rect x="401.2" y="598.4" width="3.8" height="3.8"/>
<rect x="557.2" y="621.5" width="3.8" height="3.8"/>
<rect x="817.8" y="700.4" width="3.8" height="3.8"/>
<rect x="527.4" y="735.1" width="3.8" height="3.8"/>
<rect x="927.3" y="768.6" width="3.8" height="3.8"/>
<rect x="728.0" y="562.6" width="3.8" height="3.8"/>
<rect x="885.5" y="773.9" width="3.8" height="3.8"/>
<rect x="1113.5" y="801.4" width="3.8" height="3.8"/>
<rect x="389.9" y="649.0" width="3.8" height="3.8"/>
<rect x="710.2" y="784.1" width="3.8" height="3.8"/>
<rect x="1133.5" y="661.3" width="3.8" height="3.8"/>
<rect x="1134.8" y="689.9" width="3.8" height="3.8"/>
<rect x="293.9" y="720.2" width="3.8" height="3.8"/>
<rect x="512.6" y="646.7" width="3.8" height="3.8"/>
<rect x="1259.0" y="599.7" width="3.8" height="3.8"/>
<rect x="1240.8" y="799.4" width="3.8" height="3.8"/>
<rect x="462.7" y="587.2" width="3.8" height="3.8"/>
<rect x="654.3" y="631.8" width="3.8" height="3.8"/>
<rect x="412.7" y="534.9" width="3.8" height="3.8"/>
<rect x="1091.8" y="682.4" width="3.8" height="3.8"/>
<rect x="944.3" y="687.7" width="3.8" height="3.8"/>
<rect x="1023.2" y="802.5" width="3.8" height="3.8"/>
<rect x="490.5" y="712.5" width="3.8" height="3.8"/>
<rect x="402.6" y="575.5" width="3.8" height="3.8"/>
<rect x="399.1" y="692.4" width="3.8" height="3.8"/>
<rect x="597.6" y="767.1" width="3.8" height="3.8"/>
<rect x="697.9" y="756.5" width="3.8" height="3.8"/>
<rect x="1039.0" y="630.9" width="3.8" height="3.8"/>
<rect x="1325.5" y="655.2" width="3.8" height="3.8"/>
<rect x="831.6" y="748.0" width="3.8" height="3.8"/>
<rect x="1161.6" y="736.2" width="3.8" height="3.8"/>
<rect x="1028.0" y="816.2" width="3.8" height="3.8"/>
<rect x="802.8" y="748.7" width="3.8" height="3.8"/>
<rect x="1241.8" y="613.3" width="3.8" height="3.8"/>
<rect x="361.0" y="686.3" width="3.8" height="3.8"/>
<rect x="464.6" y="566.9" width="3.8" height="3.8"/>
<rect x="705.7" y="712.9" width="3.8" height="3.8"/>
<rect x="283.7" y="643.1" width="3.8" height="3.8"/>
<rect x="784.7" y="726.0" width="3.8" height="3.8"/>
<rect x="327.2" y="625.2" width="3.8" height="3.8"/>
<rect x="579.1" y="629.0" width="3.8" height="3.8"/>
<rect x="1373.5" y="649.5" width="3.8" height="3.8"/>
<rect x="896.6" y="804.8" width="3.8" height="3.8"/>
<rect x="976.7" y="613.1" width="3.8" height="3.8"/>
<rect x="678.1" y="732.2" width="3.8" height="3.8"/>
<rect x="613.0" y="678.9" width="3.8" height="3.8"/>
<rect x="979.0" y="616.2" width="3.8" height="3.8"/>
<rect x="885.7" y="781.2" width="3.8" height="3.8"/>
<rect x="634.2" y="727.1" width="3.8" height="3.8"/>
<rect x="809.1" y="711.5" width="3.8" height="3.8"/>
<rect x="663.0" y="742.2" width="3.8" height="3.8"/>
<rect x="285.1" y="575.7" width="3.8" height="3.8"/>
<rect x="905.5" y="739.3" width="3.8" height="3.8"/>
<rect x="463.8" y="639.7" width="3.8" height="3.8"/>
<rect x="1080.1" y="748.5" width="3.8" height="3.8"/>
<rect x="1313.0" y="760.7" width="3.8" height="3.8"/>
<rect x="365.5" y="609.2" width="3.8" height="3.8"/>
<rect x="918.5" y="585.1" width="3.8" height="3.8"/>
<rect x="750.3" y="795.7" width="3.8" height="3.8"/>
<rect x="352.0" y="700.4" width="3.8" height="3.8"/>
<rect x="561.7" y="641.9" width="3.8" height="3.8"/>
<rect x="458.9" y="644.9" width="3.8" height="3.8"/>
<rect x="718.6" y="646.7" width="3.8" height="3.8"/>
<rect x="943.3" y="680.6" width="3.8" height="3.8"/>
<rect x="1088.0" y="625.4" width="3.8" height="3.8"/>
<rect x="941.2" y="763.1" width="3.8" height="3.8"/>
<rect x="654.1" y="551.9" width="3.8" height="3.8"/>
<rect x="485.0" y="734.4" width="3.8" height="3.8"/>
<rect x="1296.9" y="603.1" width="3.8" height="3.8"/>
<rect x="638.2" y="643.6" width="3.8" height="3.8"/>
<rect x="1027.4" y="636.1" width="3.8" height="3.8"/>
<rect x="340.6" y="750.2" width="3.8" height="3.8"/>
<rect x="646.7" y="716.4" width="3.8" height="3.8"/>
<rect x="937.7" y="698.6" width="3.8" height="3.8"/>
<rect x="1299.5" y="678.6" width="3.8" height="3.8"/>
<rect x="1368.3" y="593.8" width="3.8" height="3.8"/>
<rect x="640.8" y="611.5" width="3.8" height="3.8"/>
<rect x="449.7" y="662.1" width="3.8" height="3.8"/>
<rect x="1176.6" y="648.7" width="3.8" height="3.8"/>
<rect x="872.3" y="621.9" width="3.8" height="3.8"/>
<rect x="941.8" y="673.7" width="3.8" height="3.8"/>
<rect x="1096.0" y="659.0" width="3.8" height="3.8"/>
<rect x="1134.6" y="565.6" width="3.8" height="3.8"/>
<rect x="1130.8" y="591.9" width="3.8" height="3.8"/>
<rect x="855.4" y="746.0" width="3.8" height="3.8"/>
<rect x="422.8" y="553.5" width="3.8" height="3.8"/>
<rect x="1132.6" y="700.4" width="3.8" height="3.8"/>
<rect x="1370.5" y="682.4" width="3.8" height="3.8"/>
<rect x="308.0" y="620.4" width="3.8" height="3.8"/>
<rect x="343.6" y="610.5" width="3.8" height="3.8"/>
<rect x="1315.5" y="661.5" width="3.8" height="3.8"/>
<rect x="442.1" y="645.8" width="3.8" height="3.8"/>
<rect x="1136.9" y="768.1" width="3.8" height="3.8"/>
<rect x="980.0" y="692.3" width="3.8" height="3.8"/>
<rect x="1161.7" y="611.7" width="3.8" height="3.8"/>
<rect x="396.2" y="795.3" width="3.8" height="3.8"/>
<rect x="349.4" y="536.4" width="3.8" height="3.8"/>
<rect x="343.4" y="736.6" width="3.8" height="3.8"/>
<rect x="730.1" y="791.4" width="3.8" height="3.8"/>
<rect x="524.7" y="634.7" width="3.8" height="3.8"/>
<rect x="567.0" y="682.8" width="3.8" height="3.8"/>
<rect x="1116.0" y="734.4" width="3.8" height="3.8"/>
<rect x="606.9" y="716.4" width="3.8" height="3.8"/>
<rect x="450.3" y="750.1" width="3.8" height="3.8"/>
<rect x="1237.6" y="674.5" width="3.8" height="3.8"/>
<rect x="589.3" y="547.5" width="3.8" height="3.8"/>
<rect x="813.6" y="767.7" width="3.8" height="3.8"/>
<rect x="937.4" y="802.9" width="3.8" height="3.8"/>
<rect x="917.1" y="751.6" width="3.8" height="3.8"/>
<rect x="443.7" y="667.8" width="3.8" height="3.8"/>
<rect x="384.9" y="642.6" width="3.8" height="3.8"/>
<rect x="652.3" y="660.0" width="3.8" height="3.8"/>
<rect x="1068.7" y="709.5" width="3.8" height="3.8"/>
<rect x="536.3" y="668.9" width="3.8" height="3.8"/>
<rect x="1039.0" y="641.8" width="3.8" height="3.8"/>
<rect x="752.8" y="697.4" width="3.8" height="3.8"/>
<rect x="299.1" y="551.2" width="3.8" height="3.8"/>
<rect x="410.2" y="791.9" width="3.8" height="3.8"/>
<rect x="427.2" y="704.8" width="3.8" height="3.8"/>
<rect x="440.6" y="757.0" width="3.8" height="3.8"/>
<rect x="830.4" y="662.2" width="3.8" height="3.8"/>
<rect x="1292.3" y="742.4" width="3.8" height="3.8"/>
<rect x="514.8" y="811.6" width="3.8" height="3.8"/>
<rect x="578.7" y="601.2" width="3.8" height="3.8"/>
<rect x="569.5" y="760.3" width="3.8" height="3.8"/>
<rect x="728.1" y="719.1" width="3.8" height="3.8"/>
<rect x="677.8" y="651.4" width="3.8" height="3.8"/>
<rect x="878.2" y="625.1" width="3.8" height="3.8"/>
<rect x="718.3" y="613.7" width="3.8" height="3.8"/>
<rect x="740.3" y="607.5" width="3.8" height="3.8"/>
<rect x="730.1" y="742.6" width="3.8" height="3.8"/>
<rect x="558.5" y="572.4" width="3.8" height="3.8"/>
<rect x="693.6" y="704.0" width="3.8" height="3.8"/>
<rect x="1208.7" y="710.2" width="3.8" height="3.8"/>
<rect x="1281.0" y="652.6" width="3.8" height="3.8"/>
<rect x="991.2" y="639.6" width="3.8" height="3.8"/>
<rect x="1220.2" y="675.8" width="3.8" height="3.8"/>
<rect x="931.6" y="727.9" width="3.8" height="3.8"/>
<rect x="1098.5" y="789.0" width="3.8" height="3.8"/>
<rect x="1064.1" y="593.7" width="3.8" height="3.8"/>
<rect x="1025.4" y="679.1" width="3.8" height="3.8"/>
<rect x="972.0" y="719.9" width="3.8" height="3.8"/>
<rect x="569.8" y="775.4" width="3.8" height="3.8"/>
<rect x="800.1" y="626.5" width="3.8" height="3.8"/>
<rect x="521.6" y="657.1" width="3.8" height="3.8"/>
<rect x="1301.8" y="588.9" width="3.8" height="3.8"/>
<rect x="1175.9" y="666.6" width="3.8" height="3.8"/>
<rect x="467.5" y="559.8" width="3.8" height="3.8"/>
<rect x="1191.4" y="703.6" width="3.8" height="3.8"/>
<rect x="1236.0" y="573.5" width="3.8" height="3.8"/>
<rect x="1180.7" y="771.6" width="3.8" height="3.8"/>
<rect x="447.1" y="712.6" width="3.8" height="3.8"/>
<rect x="1164.7" y="721.7" width="3.8" height="3.8"/>
<rect x="805.7" y="711.0" width="3.8" height="3.8"/>
<rect x="1028.7" y="654.1" width="3.8" height="3.8"/>
<rect x="852.5" y="672.2" width="3.8" height="3.8"/>
<rect x="698.3" y="740.8" width="3.8" height="3.8"/>
<rect x="499.0" y="706.3" width="3.8" height="3.8"/>
<rect x="1070.7" y="706.9" width="3.8" height="3.8"/>
<rect x="635.1" y="702.7" width="3.8" height="3.8"/>
<rect x="980.0" y="674.5" width="3.8" height="3.8"/>
<rect x="500.0" y="690.5" width="3.8" height="3.8"/>
<rect x="687.7" y="595.7" width="3.8" height="3.8"/>
<rect x="766.1" y="687.4" width="3.8" height="3.8"/>
<rect x="727.9" y="637.5" width="3.8" height="3.8"/>
<rect x="1173.1" y="609.0" width="3.8" height="3.8"/>
<rect x="1299.0" y="738.3" width="3.8" height="3.8"/>
<rect x="1350.5" y="605.5" width="3.8" height="3.8"/>
<rect x="641.1" y="764.0" width="3.8" height="3.8"/>
<rect x="1112.5" y="603.3" width="3.8" height="3.8"/>
<rect x="1273.1" y="660.3" width="3.8" height="3.8"/>
<rect x="305.4" y="573.5" width="3.8" height="3.8"/>
<rect x="1204.8" y="695.4" width="3.8" height="3.8"/>
<rect x="800.4" y="630.0" width="3.8" height="3.8"/>
<rect x="842.6" y="746.4" width="3.8" height="3.8"/>
<rect x="1017.9" y="679.2" width="3.8" height="3.8"/>
<rect x="1028.3" y="707.1" width="3.8" height="3.8"/>
<rect x="1127.1" y="722.5" width="3.8" height="3.8"/>
<rect x="362.3" y="688.7" width="3.8" height="3.8"/>
<rect x="389.5" y="657.6" width="3.8" height="3.8"/>
<rect x="337.9" y="560.3" width="3.8" height="3.8"/>
<rect x="1062.8" y="795.5" width="3.8" height="3.8"/>
<rect x="738.9" y="734.4" width="3.8" height="3.8"/>
<rect x="1380.0" y="709.8" width="3.8" height="3.8"/>
<rect x="646.5" y="658.8" width="3.8" height="3.8"/>
<rect x="283.8" y="636.0" width="3.8" height="3.8"/>
<rect x="623.0" y="741.1" width="3.8" height="3.8"/>
<rect x="1226.2" y="599.4" width="3.8" height="3.8"/>
<rect x="333.6" y="647.7" width="3.8" height="3.8"/>
<rect x="1234.9" y="708.0" width="3.8" height="3.8"/>
<rect x="500.3" y="620.9" width="3.8" height="3.8"/>
<rect x="870.3" y="639.3" width="3.8" height="3.8"/>
<rect x="922.2" y="731.9" width="3.8" height="3.8"/>
<rect x="1162.7" y="761.5" width="3.8" height="3.8"/>
<rect x="333.6" y="608.4" width="3.8" height="3.8"/>
<rect x="866.2" y="661.5" width="3.8" height="3.8"/>
<rect x="579.4" y="654.3" width="3.8" height="3.8"/>
<rect x="599.2" y="714.4" width="3.8" height="3.8"/>
<rect x="779.5" y="612.7" width="3.8" height="3.8"/>
<rect x="768.7" y="773.7" width="3.8" height="3.8"/>
<rect x="983.5" y="728.3" width="3.8" height="3.8"/>
<rect x="1230.3" y="636.7" width="3.8" height="3.8"/>
<rect x="1296.4" y="649.8" width="3.8" height="3.8"/>
<rect x="1161.9" y="631.6" width="3.8" height="3.8"/>
<rect x="603.0" y="587.8" width="3.8" height="3.8"/>
<rect x="1203.4" y="719.5" width="3.8" height="3.8"/>
<rect x="388.6" y="631.5" width="3.8" height="3.8"/>
<rect x="561.7" y="730.1" width="3.8" height="3.8"/>
<rect x="1035.0" y="798.5" width="3.8" height="3.8"/>
<rect x="323.2" y="691.1" width="3.8" height="3.8"/>
<rect x="601.6" y="628.6" width="3.8" height="3.8"/>
<rect x="896.5" y="687.3" width="3.8" height="3.8"/>
<rect x="1284.8" y="697.2" width="3.8" height="3.8"/>
<rect x="1160.4" y="623.6" width="3.8" height="3.8"/>
<rect x="709.7" y="619.2" width="3.8" height="3.8"/>
<rect x="523.9" y="739.4" width="3.8" height="3.8"/>
<rect x="380.5" y="644.8" width="3.8" height="3.8"/>
<rect x="1027.3" y="619.6" width="3.8" height="3.8"/>
<rect x="1315.2" y="565.8" width="3.8" height="3.8"/>
<rect x="598.4" y="683.3" width="3.8" height="3.8"/>
<rect x="1304.6" y="591.9" width="3.8" height="3.8"/>
<rect x="812.7" y="636.6" width="3.8" height="3.8"/>
<rect x="374.8" y="603.2" width="3.8" height="3.8"/>
<rect x="576.7" y="708.2" width="3.8" height="3.8"/>
<rect x="1298.8" y="633.1" width="3.8" height="3.8"/>
<rect x="645.2" y="689.8" width="3.8" height="3.8"/>
<rect x="474.7" y="778.5" width="3.8" height="3.8"/>
<rect x="606.6" y="653.9" width="3.8" height="3.8"/>
<rect x="886.6" y="708.7" width="3.8" height="3.8"/>
<rect x="935.2" y="795.2" width="3.8" height="3.8"/>
<rect x="384.5" y="673.6" width="3.8" height="3.8"/>
<rect x="422.9" y="615.3" width="3.8" height="3.8"/>
<rect x="1009.9" y="752.6" width="3.8" height="3.8"/>
<rect x="464.6" y="546.3" width="3.8" height="3.8"/>
<rect x="1242.2" y="793.3" width="3.8" height="3.8"/>
<rect x="441.8" y="684.3" width="3.8" height="3.8"/>
<rect x="825.3" y="687.6" width="3.8" height="3.8"/>
<rect x="407.0" y="702.4" width="3.8" height="3.8"/>
<rect x="837.1" y="791.0" width="3.8" height="3.8"/>
<rect x="495.6" y="674.3" width="3.8" height="3.8"/>
<rect x="542.2" y="708.3" width="3.8" height="3.8"/>
<rect x="816.8" y="727.1" width="3.8" height="3.8"/>
<rect x="907.4" y="731.8" width="3.8" height="3.8"/>
<rect x="446.9" y="777.4" width="3.8" height="3.8"/>
<rect x="311.3" y="592.4" width="3.8" height="3.8"/>
<rect x="1261.1" y="666.3" width="3.8" height="3.8"/>
<rect x="916.4" y="610.3" width="3.8" height="3.8"/>
<rect x="1062.5" y="620.6" width="3.8" height="3.8"/>
<rect x="548.7" y="694.4" width="3.8" height="3.8"/>
<rect x="960.3" y="703.4" width="3.8" height="3.8"/>
<rect x="1177.3" y="709.4" width="3.8" height="3.8"/>
<rect x="1294.6" y="601.1" width="3.8" height="3.8"/>
<rect x="1316.1" y="651.3" width="3.8" height="3.8"/>
<rect x="547.6" y="690.5" width="3.8" height="3.8"/>
<rect x="1027.2" y="673.1" width="3.8" height="3.8"/>
<rect x="496.1" y="696.4" width="3.8" height="3.8"/>
<rect x="807.2" y="706.8" width="3.8" height="3.8"/>
<rect x="1138.2" y="684.8" width="3.8" height="3.8"/>
<rect x="497.0" y="561.3" width="3.8" height="3.8"/>
<rect x="1211.6" y="771.7" width="3.8" height="3.8"/>
<rect x="663.0" y="752.4" width="3.8" height="3.8"/>
<rect x="1344.3" y="678.1" width="3.8" height="3.8"/>
<rect x="1192.5" y="639.3" width="3.8" height="3.8"/>
<rect x="1276.9" y="738.4" width="3.8" height="3.8"/>
<rect x="929.5" y="599.2" width="3.8" height="3.8"/>
<rect x="1188.9" y="720.2" width="3.8" height="3.8"/>
<rect x="1338.9" y="634.8" width="3.8" height="3.8"/>
<rect x="1322.4" y="801.8" width="3.8" height="3.8"/>
<rect x="555.6" y="650.0" width="3.8" height="3.8"/>
<rect x="533.6" y="619.7" width="3.8" height="3.8"/>
<rect x="821.4" y="725.5" width="3.8" height="3.8"/>
<rect x="1034.4" y="596.4" width="3.8" height="3.8"/>
<rect x="1154.1" y="761.2" width="3.8" height="3.8"/>
<rect x="1317.7" y="651.7" width="3.8" height="3.8"/>
<rect x="998.1" y="715.2" width="3.8" height="3.8"/>
<rect x="652.3" y="754.5" width="3.8" height="3.8"/>
<rect x="282.1" y="540.9" width="3.8" height="3.8"/>
<rect x="295.2" y="679.6" width="3.8" height="3.8"/>
<rect x="945.4" y="639.3" width="3.8" height="3.8"/>
<rect x="647.7" y="603.8" width="3.8" height="3.8"/>
<rect x="961.4" y="815.9" width="3.8" height="3.8"/>
<rect x="374.3" y="631.4" width="3.8" height="3.8"/>
<rect x="1007.5" y="623.0" width="3.8" height="3.8"/>
<rect x="410.5" y="786.2" width="3.8" height="3.8"/>
<rect x="480.5" y="695.1" width="3.8" height="3.8"/>
<rect x="1335.4" y="702.9" width="3.8" height="3.8"/>
<rect x="712.9" y="776.9" width="3.8" height="3.8"/>
<rect x="1369.4" y="657.5" width="3.8" height="3.8"/>
<rect x="1194.9" y="675.9" width="3.8" height="3.8"/>
<rect x="470.9" y="659.2" width="3.8" height="3.8"/>
<rect x="779.4" y="703.5" width="3.8" height="3.8"/>
<rect x="388.6" y="722.8" width="3.8" height="3.8"/>
<rect x="1264.7" y="789.1" width="3.8" height="3.8"/>
<rect x="676.9" y="753.3" width="3.8" height="3.8"/>
<rect x="975.4" y="595.5" width="3.8" height="3.8"/>
<rect x="1279.5" y="659.4" width="3.8" height="3.8"/>
<rect x="1032.4" y="742.5" width="3.8" height="3.8"/>
<rect x="771.8" y="792.6" width="3.8" height="3.8"/>
<rect x="1105.6" y="613.8" width="3.8" height="3.8"/>
<rect x="436.8" y="613.9" width="3.8" height="3.8"/>
<rect x="914.4" y="621.8" width="3.8" height="3.8"/>
<rect x="986.0" y="775.4" width="3.8" height="3.8"/>
<rect x="1119.6" y="613.5" width="3.8" height="3.8"/>
<rect x="1358.0" y="659.5" width="3.8" height="3.8"/>
<rect x="1061.3" y="817.9" width="3.8" height="3.8"/>
<rect x="583.7" y="560.5" width="3.8" height="3.8"/>
<rect x="1154.1" y="620.9" width="3.8" height="3.8"/>
<rect x="431.7" y="688.5" width="3.8" height="3.8"/>
<rect x="1093.0" y="658.8" width="3.8" height="3.8"/>
<rect x="621.8" y="664.6" width="3.8" height="3.8"/>
<rect x="1345.6" y="791.9" width="3.8" height="3.8"/>
<rect x="483.9" y="706.0" width="3.8" height="3.8"/>
<rect x="631.7" y="669.9" width="3.8" height="3.8"/>
<rect x="396.9" y="600.2" width="3.8" height="3.8"/>
<rect x="1341.9" y="722.9" width="3.8" height="3.8"/>
<rect x="502.5" y="534.3" width="3.8" height="3.8"/>
<rect x="981.1" y="743.7" width="3.8" height="3.8"/>
<rect x="624.9" y="689.4" width="3.8" height="3.8"/>
<rect x="894.5" y="637.7" width="3.8" height="3.8"/>
<rect x="1108.8" y="582.3" width="3.8" height="3.8"/>
<rect x="973.5" y="705.8" width="3.8" height="3.8"/>
<rect x="1190.5" y="657.5" width="3.8" height="3.8"/>
<rect x="667.9" y="684.8" width="3.8" height="3.8"/>
<rect x="354.3" y="707.5" width="3.8" height="3.8"/>
<rect x="1110.0" y="575.2" width="3.8" height="3.8"/>
<rect x="400.1" y="724.4" width="3.8" height="3.8"/>
<rect x="989.6" y="577.1" width="3.8" height="3.8"/>
<rect x="1133.0" y="602.0" width="3.8" height="3.8"/>
<rect x="1316.2" y="637.9" width="3.8" height="3.8"/>
<rect x="1167.4" y="741.0" width="3.8" height="3.8"/>
<rect x="482.3" y="575.3" width="3.8" height="3.8"/>
<rect x="1016.8" y="678.9" width="3.8" height="3.8"/>
<rect x="424.7" y="725.5" width="3.8" height="3.8"/>
<rect x="832.0" y="743.5" width="3.8" height="3.8"/>
<rect x="1015.0" y="619.1" width="3.8" height="3.8"/>
<rect x="579.7" y="733.1" width="3.8" height="3.8"/>
<rect x="1148.4" y="745.3" width="3.8" height="3.8"/>
<rect x="1110.4" y="774.2" width="3.8" height="3.8"/>
<rect x="1269.8" y="667.8" width="3.8" height="3.8"/>
<rect x="994.1" y="565.5" width="3.8" height="3.8"/>
<rect x="422.2" y="628.9" width="3.8" height="3.8"/>
<rect x="581.1" y="584.9" width="3.8" height="3.8"/>
<rect x="943.8" y="701.8" width="3.8" height="3.8"/>
<rect x="524.5" y="718.3" width="3.8" height="3.8"/>
<rect x="1024.1" y="731.9" width="3.8" height="3.8"/>
<rect x="1050.0" y="628.5" width="3.8" height="3.8"/>
<rect x="1203.7" y="778.2" width="3.8" height="3.8"/>
<rect x="430.4" y="659.9" width="3.8" height="3.8"/>
<rect x="342.4" y="530.4" width="3.8" height="3.8"/>
<rect x="320.9" y="608.1" width="3.8" height="3.8"/>
<rect x="399.3" y="611.1" width="3.8" height="3.8"/>
<rect x="642.9" y="639.9" width="3.8" height="3.8"/>
<rect x="517.8" y="702.8" width="3.8" height="3.8"/>
<rect x="1170.7" y="813.5" width="3.8" height="3.8"/>
<rect x="310.8" y="735.8" width="3.8" height="3.8"/>
<rect x="745.5" y="713.0" width="3.8" height="3.8"/>
<rect x="973.3" y="640.4" width="3.8" height="3.8"/>
<rect x="843.0" y="678.6" width="3.8" height="3.8"/>
<rect x="527.1" y="799.5" width="3.8" height="3.8"/>
<rect x="1339.4" y="675.3" width="3.8" height="3.8"/>
<rect x="1366.9" y="642.6" width="3.8" height="3.8"/>
<rect x="778.7" y="709.1" width="3.8" height="3.8"/>
<rect x="1059.9" y="666.5" width="3.8" height="3.8"/>
<rect x="722.3" y="734.7" width="3.8" height="3.8"/>
<rect x="491.7" y="585.7" width="3.8" height="3.8"/>
<rect x="495.6" y="655.6" width="3.8" height="3.8"/>
<rect x="494.5" y="559.3" width="3.8" height="3.8"/>
<rect x="1352.3" y="638.4" width="3.8" height="3.8"/>
<rect x="1325.0" y="658.0" width="3.8" height="3.8"/>
<rect x="346.4" y="540.4" width="3.8" height="3.8"/>
<rect x="291.5" y="633.0" width="3.8" height="3.8"/>
<rect x="568.6" y="577.5" width="3.8" height="3.8"/>
<rect x="457.9" y="720.5" width="3.8" height="3.8"/>
<rect x="326.0" y="649.2" width="3.8" height="3.8"/>
<rect x="669.7" y="716.9" width="3.8" height="3.8"/>
<rect x="390.0" y="581.0" width="3.8" height="3.8"/>
<rect x="1284.6" y="714.3" width="3.8" height="3.8"/>
<rect x="803.3" y="732.2" width="3.8" height="3.8"/>
<rect x="899.7" y="742.7" width="3.8" height="3.8"/>
<rect x="1061.9" y="726.6" width="3.8" height="3.8"/>
<rect x="1360.6" y="672.6" width="3.8" height="3.8"/>
<rect x="1174.2" y="609.5" width="3.8" height="3.8"/>
<rect x="425.0" y="678.9" width="3.8" height="3.8"/>
<rect x="695.8" y="786.0" width="3.8" height="3.8"/>
<rect x="1194.6" y="657.0" width="3.8" height="3.8"/>
<rect x="1259.5" y="677.8" width="3.8" height="3.8"/>
<rect x="355.5" y="547.8" width="3.8" height="3.8"/>
<rect x="812.5" y="604.3" width="3.8" height="3.8"/>
<rect x="504.4" y="723.8" width="3.8" height="3.8"/>
<rect x="392.0" y="616.4" width="3.8" height="3.8"/>
<rect x="416.6" y="565.0" width="3.8" height="3.8"/>
<rect x="980.3" y="727.5" width="3.8" height="3.8"/>
<rect x="762.9" y="697.0" width="3.8" height="3.8"/>
<rect x="797.2" y="683.5" width="3.8" height="3.8"/>
<rect x="1020.6" y="702.5" width="3.8" height="3.8"/>
<rect x="1041.8" y="797.8" width="3.8" height="3.8"/>
<rect x="433.8" y="636.8" width="3.8" height="3.8"/>
<rect x="540.8" y="646.9" width="3.8" height="3.8"/>
<rect x="529.8" y="701.8" width="3.8" height="3.8"/>
<rect x="977.6" y="571.9" width="3.8" height="3.8"/>
<rect x="319.4" y="780.5" width="3.8" height="3.8"/>
<rect x="319.2" y="632.8" width="3.8" height="3.8"/>
<rect x="542.8" y="692.9" width="3.8" height="3.8"/>
<rect x="1305.1" y="781.8" width="3.8" height="3.8"/>
<rect x="520.0" y="406.7" width="3.8" height="3.8"/>
<rect x="461.4" y="457.6" width="3.8" height="3.8"/>
<rect x="471.1" y="459.8" width="3.8" height="3.8"/>
<rect x="501.4" y="454.7" width="3.8" height="3.8"/>
<rect x="508.0" y="469.9" width="3.8" height="3.8"/>
<rect x="563.1" y="459.6" width="3.8" height="3.8"/>
<rect x="446.5" y="481.0" width="3.8" height="3.8"/>
<rect x="486.8" y="482.1" width="3.8" height="3.8"/>
<rect x="389.3" y="488.4" width="3.8" height="3.8"/>
<rect x="305.8" y="492.7" width="3.8" height="3.8"/>
<rect x="570.3" y="494.4" width="3.8" height="3.8"/>
<rect x="646.6" y="497.9" width="3.8" height="3.8"/>
<rect x="679.8" y="447.8" width="3.8" height="3.8"/>
<rect x="677.8" y="458.1" width="3.8" height="3.8"/>
<rect x="702.6" y="465.0" width="3.8" height="3.8"/>
<rect x="688.9" y="475.3" width="3.8" height="3.8"/>
<rect x="684.3" y="495.0" width="3.8" height="3.8"/>
<rect x="742.7" y="498.1" width="3.8" height="3.8"/>
<rect x="746.1" y="461.6" width="3.8" height="3.8"/>
<rect x="327.0" y="513.6" width="3.8" height="3.8"/>
<rect x="386.7" y="510.4" width="3.8" height="3.8"/>
<rect x="394.2" y="514.2" width="3.8" height="3.8"/>
<rect x="406.2" y="515.9" width="3.8" height="3.8"/>
<rect x="495.9" y="512.2" width="3.8" height="3.8"/>
<rect x="522.0" y="508.2" width="3.8" height="3.8"/>
<rect x="526.8" y="515.9" width="3.8" height="3.8"/>
<rect x="538.0" y="511.9" width="3.8" height="3.8"/>
<rect x="574.3" y="514.7" width="3.8" height="3.8"/>
<rect x="1052.2" y="439.3" width="3.8" height="3.8"/>
<rect x="1032.5" y="453.8" width="3.8" height="3.8"/>
<rect x="1206.3" y="464.7" width="3.8" height="3.8"/>
<rect x="1004.4" y="484.1" width="3.8" height="3.8"/>
<rect x="1279.7" y="491.9" width="3.8" height="3.8"/>
<rect x="1287.2" y="489.3" width="3.8" height="3.8"/>
<rect x="1153.7" y="497.3" width="3.8" height="3.8"/>
<rect x="1165.7" y="509.6" width="3.8" height="3.8"/>
<rect x="1154.8" y="512.2" width="3.8" height="3.8"/>
<rect x="1291.5" y="511.0" width="3.8" height="3.8"/>
<rect x="1225.4" y="515.0" width="3.8" height="3.8"/>
<rect x="916.1" y="523.9" width="3.8" height="3.8"/>
<rect x="1070.5" y="522.5" width="3.8" height="3.8"/>
<rect x="1210.0" y="524.5" width="3.8" height="3.8"/>
<rect x="1251.2" y="522.5" width="3.8" height="3.8"/>
<rect x="1029.6" y="530.5" width="3.8" height="3.8"/>
<rect x="1069.6" y="535.0" width="3.8" height="3.8"/>
<rect x="1098.8" y="531.0" width="3.8" height="3.8"/>
<rect x="1180.5" y="533.6" width="3.8" height="3.8"/>
<rect x="1192.0" y="531.3" width="3.8" height="3.8"/>
<rect x="990.4" y="539.0" width="3.8" height="3.8"/>
<rect x="1131.9" y="543.9" width="3.8" height="3.8"/>
<rect x="1224.0" y="543.3" width="3.8" height="3.8"/>
<rect x="1216.0" y="548.2" width="3.8" height="3.8"/>
<rect x="1224.0" y="549.6" width="3.8" height="3.8"/>
<rect x="1172.0" y="549.9" width="3.8" height="3.8"/>
<rect x="1272.0" y="548.5" width="3.8" height="3.8"/>
<rect x="1290.3" y="548.2" width="3.8" height="3.8"/>
<rect x="1317.2" y="551.6" width="3.8" height="3.8"/>
<rect x="1294.3" y="551.6" width="3.8" height="3.8"/>
<rect x="1142.8" y="552.8" width="3.8" height="3.8"/>
<rect x="1173.4" y="555.1" width="3.8" height="3.8"/>
<rect x="1295.2" y="554.2" width="3.8" height="3.8"/>
<rect x="733.3" y="520.0" width="3.8" height="3.8"/>
<rect x="744.0" y="520.9" width="3.8" height="3.8"/>
<rect x="750.8" y="527.1" width="3.8" height="3.8"/>
<rect x="764.6" y="529.2" width="3.8" height="3.8"/>
<rect x="764.9" y="533.7" width="3.8" height="3.8"/>
<rect x="776.5" y="530.7" width="3.8" height="3.8"/>
<rect x="455.6" y="827.8" width="3.8" height="3.8"/>
<rect x="472.2" y="824.8" width="3.8" height="3.8"/>
<rect x="488.6" y="820.1" width="3.8" height="3.8"/>
<rect x="474.6" y="837.1" width="3.8" height="3.8"/>
<rect x="596.0" y="832.1" width="3.8" height="3.8"/>
<rect x="606.3" y="828.1" width="3.8" height="3.8"/>
<rect x="596.3" y="847.5" width="3.8" height="3.8"/>
<rect x="576.6" y="870.1" width="3.8" height="3.8"/>
<rect x="725.1" y="839.4" width="3.8" height="3.8"/>
<rect x="736.7" y="842.1" width="3.8" height="3.8"/>
<rect x="746.7" y="855.8" width="3.8" height="3.8"/>
<rect x="783.8" y="823.4" width="3.8" height="3.8"/>
<rect x="794.1" y="838.4" width="3.8" height="3.8"/>
<rect x="779.8" y="847.1" width="3.8" height="3.8"/>
<rect x="797.1" y="872.8" width="3.8" height="3.8"/>
<rect x="800.8" y="891.8" width="3.8" height="3.8"/>
<rect x="775.1" y="904.1" width="3.8" height="3.8"/>
<rect x="820.1" y="937.2" width="3.8" height="3.8"/>
<rect x="860.8" y="819.8" width="3.8" height="3.8"/>
<rect x="841.4" y="833.4" width="3.8" height="3.8"/>
<rect x="842.4" y="837.1" width="3.8" height="3.8"/>
<rect x="850.1" y="830.1" width="3.8" height="3.8"/>
<rect x="857.1" y="833.8" width="3.8" height="3.8"/>
<rect x="896.5" y="823.8" width="3.8" height="3.8"/>
<rect x="905.5" y="822.1" width="3.8" height="3.8"/>
<rect x="896.5" y="829.4" width="3.8" height="3.8"/>
<rect x="908.5" y="835.4" width="3.8" height="3.8"/>
<rect x="926.8" y="824.8" width="3.8" height="3.8"/>
<rect x="934.8" y="820.8" width="3.8" height="3.8"/>
<rect x="940.8" y="823.8" width="3.8" height="3.8"/>
<rect x="927.8" y="835.8" width="3.8" height="3.8"/>
<rect x="966.5" y="831.4" width="3.8" height="3.8"/>
<rect x="977.2" y="836.8" width="3.8" height="3.8"/>
<rect x="988.2" y="823.8" width="3.8" height="3.8"/>
<rect x="1000.5" y="833.8" width="3.8" height="3.8"/>
<rect x="1036.9" y="839.8" width="3.8" height="3.8"/>
<rect x="871.8" y="851.8" width="3.8" height="3.8"/>
<rect x="887.5" y="863.1" width="3.8" height="3.8"/>
<rect x="918.5" y="854.5" width="3.8" height="3.8"/>
<rect x="929.5" y="863.5" width="3.8" height="3.8"/>
<rect x="937.8" y="871.1" width="3.8" height="3.8"/>
<rect x="909.5" y="878.5" width="3.8" height="3.8"/>
<rect x="989.5" y="856.8" width="3.8" height="3.8"/>
<rect x="925.8" y="934.8" width="3.8" height="3.8"/>
<rect x="1081.3" y="938.5" width="3.8" height="3.8"/>
<rect x="1163.0" y="827.4" width="3.8" height="3.8"/>
<rect x="1147.0" y="836.1" width="3.8" height="3.8"/>
<rect x="1144.3" y="845.5" width="3.8" height="3.8"/>
<rect x="1162.0" y="891.5" width="3.8" height="3.8"/>
<rect x="1201.7" y="853.1" width="3.8" height="3.8"/>
<rect x="1229.0" y="825.1" width="3.8" height="3.8"/>
<rect x="1238.0" y="831.4" width="3.8" height="3.8"/>
<rect x="1261.1" y="827.4" width="3.8" height="3.8"/>
<rect x="1258.1" y="847.8" width="3.8" height="3.8"/>
<rect x="1232.7" y="870.5" width="3.8" height="3.8"/>
<rect x="1284.1" y="867.1" width="3.8" height="3.8"/>
<rect x="1327.4" y="827.8" width="3.8" height="3.8"/>
<rect x="1357.1" y="827.8" width="3.8" height="3.8"/>
<rect x="1338.4" y="874.1" width="3.8" height="3.8"/>
</g>
<g id="axes" fill="#fff">
<rect x="272.7" y="308" width="1.6" height="699"/>
<rect x="272.7" y="997.1" width="1113.2" height="1.6"/>
<rect x="272.8" y="997.1" width="1.6" height="9.8"/>
<text x="271.0" y="1027" font-size="16" text-anchor="middle" textLength="35.5" lengthAdjust="spacingAndGlyphs">0.00</text>
<rect x="431.6" y="997.1" width="1.6" height="9.8"/>
<text x="431.8" y="1027" font-size="16" text-anchor="middle" textLength="35.5" lengthAdjust="spacingAndGlyphs">0.50</text>
<rect x="590.4" y="997.1" width="1.6" height="9.8"/>
<text x="590.6" y="1027" font-size="16" text-anchor="middle" textLength="35.5" lengthAdjust="spacingAndGlyphs">1.00</text>
<rect x="749.2" y="997.1" width="1.6" height="9.8"/>
<text x="749.4" y="1027" font-size="16" text-anchor="middle" textLength="35.5" lengthAdjust="spacingAndGlyphs">1.50</text>
<rect x="908.0" y="997.1" width="1.6" height="9.8"/>
<text x="908.2" y="1027" font-size="16" text-anchor="middle" textLength="35.5" lengthAdjust="spacingAndGlyphs">2.00</text>
<rect x="1066.8" y="997.1" width="1.6" height="9.8"/>
<text x="1067.0" y="1027" font-size="16" text-anchor="middle" textLength="35.5" lengthAdjust="spacingAndGlyphs">2.50</text>
<rect x="1225.6" y="997.1" width="1.6" height="9.8"/>
<text x="1225.8" y="1027" font-size="16" text-anchor="middle" textLength="35.5" lengthAdjust="spacingAndGlyphs">3.00</text>
<rect x="1384.4" y="997.1" width="1.6" height="9.8"/>
<text x="1384.6" y="1027" font-size="16" text-anchor="middle" textLength="35.5" lengthAdjust="spacingAndGlyphs">3.50</text>
</g>
<text id="xlab" x="775.2" y="1076.9" font-size="24.3" font-weight="bold" textLength="269.5" lengthAdjust="spacing">Elapsed Time (Hours)</text>
<text id="ylab1" transform="translate(182.8,700.4) rotate(-90)" font-size="23" font-weight="bold" textLength="133" lengthAdjust="spacing">Brightness</text>
<text id="ylab2" transform="translate(222,782.7) rotate(-90)" font-size="23" font-weight="bold" textLength="290" lengthAdjust="spacing">15-micron emitted light</text>
<text id="brighter" transform="translate(255,465.4) rotate(-90)" font-size="18.6" letter-spacing="1" textLength="81" lengthAdjust="spacingAndGlyphs" stroke="#fff" stroke-width="0.6">brighter</text>
<text id="dimmer" transform="translate(254.6,881.1) rotate(-90)" font-size="18.6" letter-spacing="1" textLength="77" lengthAdjust="spacingAndGlyphs" stroke="#fff" stroke-width="0.6">dimmer</text>
<g id="arrows" fill="#fff">
<rect x="245.3" y="318" width="1.5" height="55.3"/><path d="M246 307.3 L251.8 318.9 L240.3 318.9 Z"/>
<rect x="245.4" y="894.9" width="1.5" height="55"/><path d="M246.2 959.9 L252 948.7 L240.5 948.7 Z"/>
</g>
<g id="pointers" fill="#b4b4b4">
<rect x="680.9" y="420" width="1.3" height="140.5"/>
<rect x="1050.1" y="420" width="1.3" height="140.5"/>
</g>
<g id="star">
<ellipse cx="866.05" cy="395.5" rx="134.9" ry="132.1" fill="url(#halog)"/>
<path d="M624.2 398.8 Q 660 396.5 681 395.6 Q 720 394.2 760 394" fill="none" stroke="#9c9e9e" stroke-width="1.8"/>
<path d="M972 393.9 C 1005 394.1 1045 396 1076.8 398.6 L 1108 400.9" fill="none" stroke="#9c9e9e" stroke-width="1.8"/>
<path d="M1122.4 401.2 L1105.9 408.3 L1106.5 392.7 Z" fill="#939393"/>
<rect x="865.9" y="505" width="1.3" height="130.5" fill="#b4b4b4"/>
<ellipse cx="866.25" cy="395.5" rx="114.7" ry="112.2" fill="url(#starg)"/>
<circle cx="866.8" cy="393.1" r="25.4" fill="none" stroke="#c0222a" stroke-width="1.5" stroke-dasharray="6 3.97"/>
</g>
<g><circle cx="681" cy="395.8" r="25.9" fill="url(#plg)"/><circle cx="681" cy="395.8" r="25.9" fill="#3d3a38" filter="url(#rough)"/></g>
<g><circle cx="1050.8" cy="395.8" r="25.9" fill="url(#plg)"/><circle cx="1050.8" cy="395.8" r="25.9" fill="#3d3a38" filter="url(#rough)"/></g>
<g id="reds" fill="#fd0d15">
<circle cx="303.3" cy="648" r="4.8"/>
<circle cx="355" cy="647.7" r="4.8"/>
<circle cx="406.7" cy="644.3" r="4.8"/>
<circle cx="457.3" cy="660.3" r="4.8"/>
<circle cx="507.7" cy="640.7" r="4.8"/>
<circle cx="559" cy="656" r="4.8"/>
<circle cx="610.3" cy="674.7" r="4.8"/>
<circle cx="662" cy="662.3" r="4.8"/>
<circle cx="713.3" cy="657.7" r="4.8"/>
<circle cx="764" cy="677.7" r="4.8"/>
<circle cx="815" cy="714.3" r="4.8"/>
<circle cx="866.3" cy="729.7" r="4.8"/>
<circle cx="917.7" cy="719" r="4.8"/>
<circle cx="968.7" cy="679.3" r="4.8"/>
<circle cx="1020" cy="668" r="4.8"/>
<circle cx="1071" cy="668" r="4.8"/>
<circle cx="1121.3" cy="679" r="4.8"/>
<circle cx="1172.7" cy="669.7" r="4.8"/>
<circle cx="1224.3" cy="647.3" r="4.8"/>
<circle cx="1274.3" cy="651.9" r="4.8"/>
<circle cx="1327.3" cy="676.3" r="4.8"/>
<circle cx="1377" cy="680.3" r="4.8"/>
</g>
<g id="glows" filter="url(#tglow)" fill="#000" fill-opacity="0.8">
<rect x="396" y="578" width="318" height="38"/>
<rect x="1016" y="578" width="318" height="38"/>
<rect x="781" y="648" width="170" height="38"/>
</g>
<text id="l1" x="403.2" y="606" font-size="24.2" textLength="303" lengthAdjust="spacing">Starlight + planet dayside</text>
<text id="l2" x="1023.8" y="606.5" font-size="24.2" textLength="303.5" lengthAdjust="spacing">Starlight + planet dayside</text>
<text id="l3" x="788.5" y="675.9" font-size="24.2" textLength="154.8" lengthAdjust="spacing">Starlight only</text>
<g id="legend">
<rect x="297.8" y="898.2" width="471.5" height="72.9" fill="#000" stroke="#a8a8a8" stroke-width="1.2"/>
<circle cx="332.5" cy="917.3" r="6.9" fill="#ff4519"/>
<rect x="326.1" y="943" width="12.9" height="12.9" fill="#0072c6"/>
<text x="350.2" y="922.6" font-size="17.6" textLength="394.6" lengthAdjust="spacing">Average brightness over 9.7-minute interval</text>
<text x="351" y="955.2" font-size="17.6" textLength="314.4" lengthAdjust="spacing">Individual brightness measurement</text>
</g>
<g id="logo">
<text id="webb" transform="translate(1473.4,1166.3) scale(1.27,1)" font-size="40.6" font-weight="bold" stroke="#fff" stroke-width="3" stroke-linejoin="miter" letter-spacing="1.4">WEBB</text>
<text id="st" x="1469.8" y="1189.4" font-size="15.8" font-weight="bold" style="fill:#f6bc3e" stroke="#f6bc3e" stroke-width="0.5" textLength="164.8" lengthAdjust="spacing">SPACE TELESCOPE</text>
</g>
</svg></body></html>
